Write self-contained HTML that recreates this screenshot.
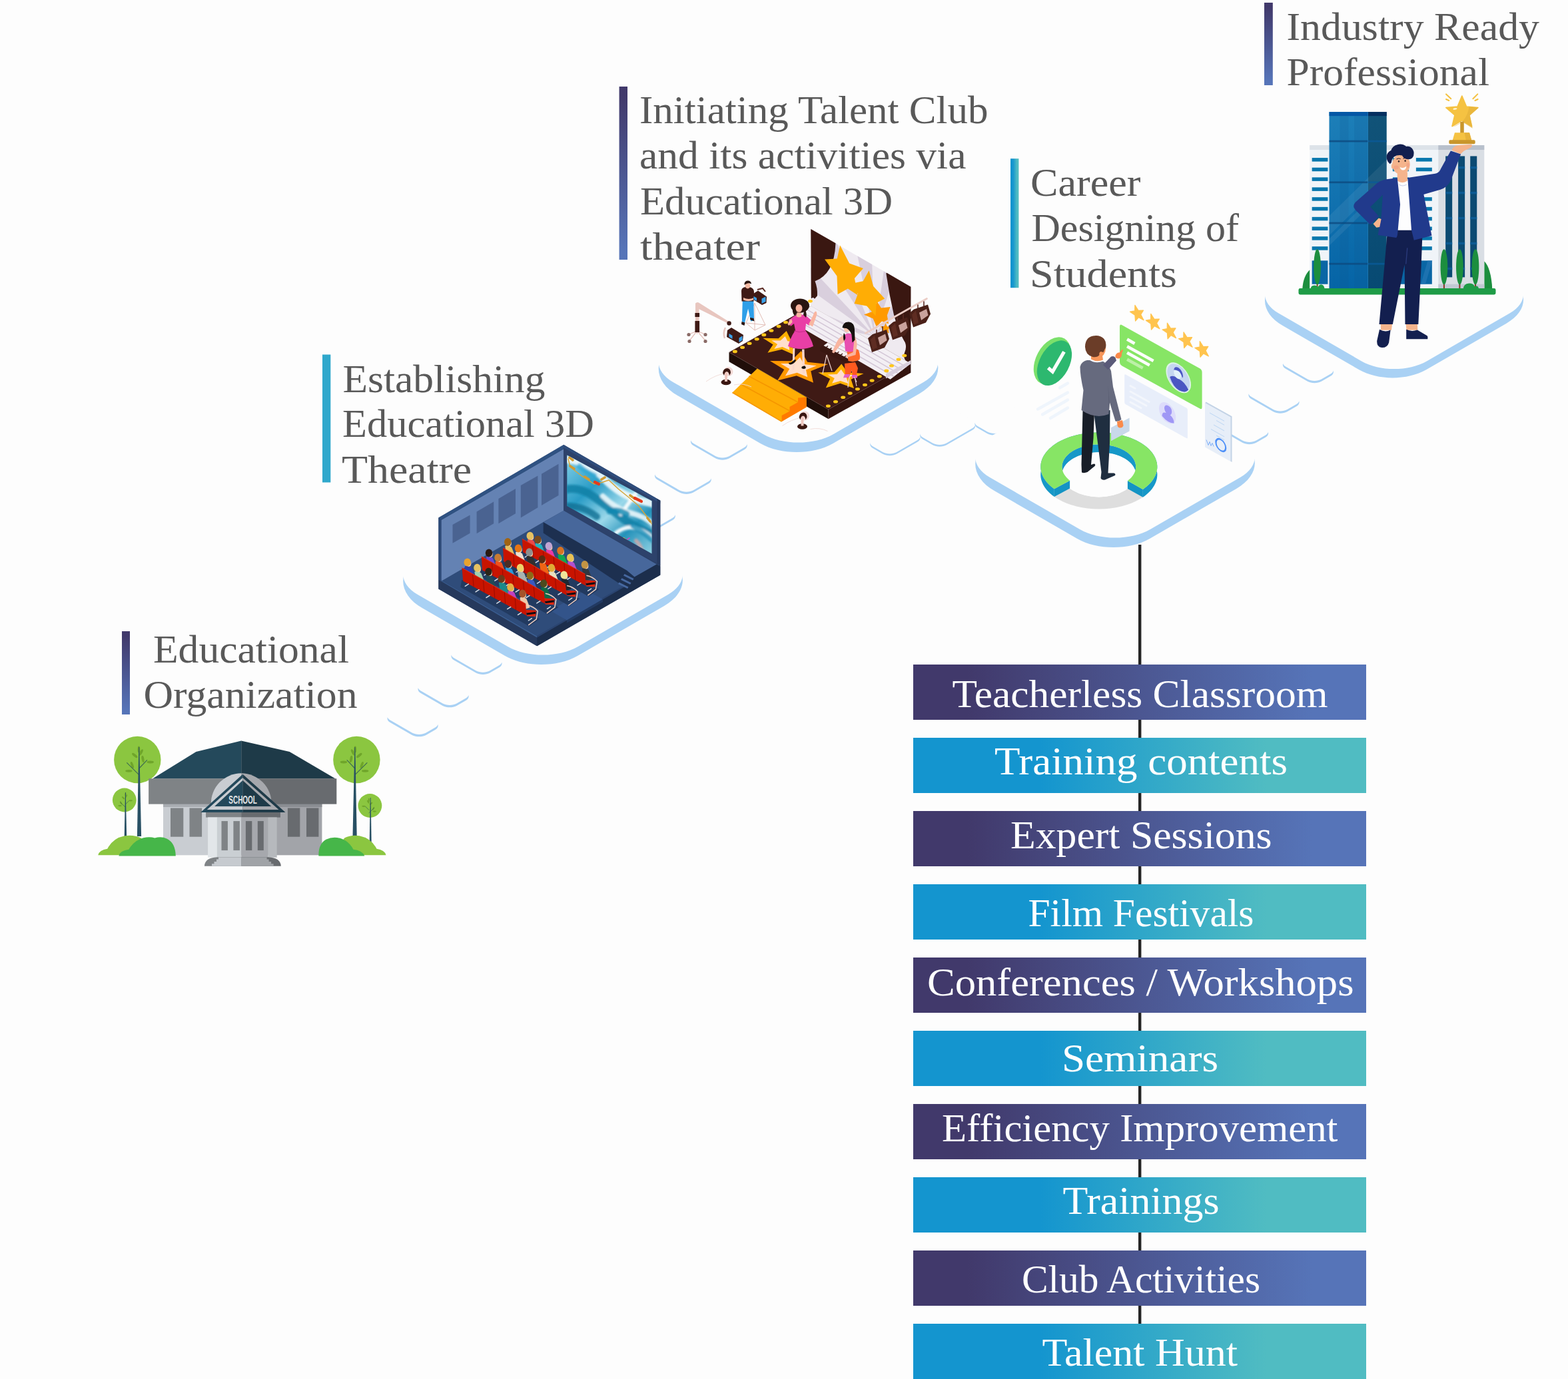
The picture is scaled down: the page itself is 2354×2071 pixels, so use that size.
<!DOCTYPE html>
<html lang="en"><head><meta charset="utf-8"><title>Talent Club Roadmap</title>
<style>
html,body{margin:0;padding:0;background:#fdfdfd}
html{width:2354px;height:2071px}
body{width:2354px;height:2071px;position:relative}
svg{display:block;position:absolute;left:0;top:0}
text{font-family:"Liberation Serif",serif;white-space:pre}
.ss text, text.ss{font-family:"Liberation Sans",sans-serif}
</style></head><body>
<svg width="2354" height="2071" viewBox="0 0 2354 2071">
<defs>
<linearGradient id="gp" x1="0" y1="0" x2="1" y2="0"><stop offset="0.12" stop-color="#41396b"/><stop offset="0.88" stop-color="#5674b8"/></linearGradient>
<linearGradient id="gt" x1="0" y1="0" x2="1" y2="0"><stop offset="0.28" stop-color="#1495cf"/><stop offset="0.78" stop-color="#50bcc2"/></linearGradient>
<linearGradient id="gpv" x1="0" y1="0" x2="0" y2="1"><stop offset="0.05" stop-color="#41396b"/><stop offset="0.95" stop-color="#5674b8"/></linearGradient>
<linearGradient id="gth" x1="0" y1="0" x2="1" y2="0"><stop offset="0.3" stop-color="#1495cf"/><stop offset="0.8" stop-color="#50bcc2"/></linearGradient>
<clipPath id="fclip"><rect x="1455" y="620" width="41.500" height="60"/></clipPath>
<linearGradient id="scr" gradientUnits="userSpaceOnUse" x1="851" y1="690" x2="978" y2="830"><stop offset="0" stop-color="#7fcde6"/><stop offset="0.3" stop-color="#2a9cc6"/><stop offset="0.55" stop-color="#9ad8ea"/><stop offset="0.75" stop-color="#2592ba"/><stop offset="1" stop-color="#8ccfe2"/></linearGradient>
<filter id="blur2" x="-20%" y="-20%" width="140%" height="140%"><feGaussianBlur stdDeviation="1.6"/></filter>
<clipPath id="scrclip"><path d="M851.3,683.4 978.5,752.3 978.5,831.4 851.3,759.8z"/></clipPath>
<clipPath id="bdclip"><path d="M1217.3,343.9 1367.4,430.7 1367.400,546 1217.300,459.500z"/></clipPath>
<linearGradient id="twl" x1="0" y1="0" x2="0" y2="1"><stop offset="0" stop-color="#1d7fb8"/><stop offset="1" stop-color="#0564a6"/></linearGradient><linearGradient id="twr" x1="0" y1="0" x2="0" y2="1"><stop offset="0" stop-color="#115378"/><stop offset="1" stop-color="#074a73"/></linearGradient>

</defs>

<g id="steps">
<path d="M585.8,1084.9L618.7,1103.9C624.5,1107.2 633.8,1107.2 639.5,1103.9L653.4,1095.9C659.1,1092.6 659.1,1087.2 653.4,1083.9L620.4,1064.9C614.7,1061.6 605.4,1061.6 599.7,1064.9L585.8,1072.9C580.1,1076.2 580.1,1081.6 585.8,1084.9Z" fill="#a9d1f4"/><path d="M585.8,1081.6L618.7,1100.6C624.5,1103.9 633.8,1103.9 639.5,1100.6L653.4,1092.6C659.1,1089.3 659.1,1083.9 653.4,1080.6L620.4,1061.6C614.7,1058.3 605.4,1058.3 599.7,1061.6L585.8,1069.6C580.1,1072.9 580.1,1078.3 585.8,1081.6Z" fill="#fdfdfd"/>
<path d="M631.8,1040.9L664.7,1059.9C670.5,1063.2 679.8,1063.2 685.5,1059.9L699.4,1051.9C705.1,1048.6 705.1,1043.2 699.4,1039.9L666.4,1020.9C660.7,1017.6 651.4,1017.6 645.7,1020.9L631.8,1028.9C626.1,1032.2 626.1,1037.6 631.8,1040.9Z" fill="#a9d1f4"/><path d="M631.8,1037.6L664.7,1056.6C670.5,1059.9 679.8,1059.9 685.5,1056.6L699.4,1048.6C705.1,1045.3 705.1,1039.9 699.4,1036.6L666.4,1017.6C660.7,1014.3 651.4,1014.3 645.7,1017.6L631.8,1025.6C626.1,1028.9 626.1,1034.3 631.8,1037.6Z" fill="#fdfdfd"/>
<path d="M681.7,991.5L714.6,1010.5C720.4,1013.8 729.7,1013.8 735.4,1010.5L749.3,1002.5C755,999.2 755,993.8 749.3,990.5L716.3,971.5C710.6,968.2 701.3,968.2 695.6,971.5L681.7,979.5C676,982.8 676,988.2 681.7,991.5Z" fill="#a9d1f4"/><path d="M681.7,988.2L714.6,1007.2C720.4,1010.5 729.7,1010.5 735.4,1007.2L749.3,999.2C755,995.9 755,990.5 749.3,987.2L716.3,968.2C710.6,964.9 701.3,964.9 695.6,968.2L681.7,976.2C676,979.5 676,984.9 681.7,988.2Z" fill="#fdfdfd"/>
<path d="M1878.7,599.3L1911.6,618.3C1917.4,621.6 1926.7,621.6 1932.4,618.3L1946.3,610.3C1952,607 1952,601.6 1946.3,598.3L1913.3,579.3C1907.6,576 1898.3,576 1892.6,579.3L1878.7,587.3C1873,590.6 1873,596 1878.7,599.3Z" fill="#a9d1f4"/><path d="M1878.7,596L1911.6,615C1917.4,618.3 1926.7,618.3 1932.4,615L1946.3,607C1952,603.7 1952,598.3 1946.3,595L1913.3,576C1907.6,572.7 1898.3,572.7 1892.6,576L1878.7,584C1873,587.3 1873,592.7 1878.7,596Z" fill="#fdfdfd"/>
<path d="M1930.1,553.8L1963,572.8C1968.8,576.1 1978.1,576.1 1983.8,572.8L1997.7,564.8C2003.4,561.5 2003.4,556.1 1997.7,552.8L1964.7,533.8C1959,530.5 1949.7,530.5 1944,533.8L1930.1,541.8C1924.4,545.1 1924.4,550.5 1930.1,553.8Z" fill="#a9d1f4"/><path d="M1930.1,550.5L1963,569.5C1968.8,572.8 1978.1,572.8 1983.8,569.5L1997.7,561.5C2003.4,558.2 2003.4,552.8 1997.7,549.5L1964.7,530.5C1959,527.2 1949.7,527.2 1944,530.5L1930.1,538.5C1924.4,541.8 1924.4,547.2 1930.1,550.5Z" fill="#fdfdfd"/>
<path d="M933.3,775.3L966.2,794.3C972,797.6 981.3,797.6 987,794.3L1009.5,781.3C1015.3,778 1015.3,772.6 1009.5,769.3L976.6,750.3C970.9,747 961.6,747 955.8,750.3L933.3,763.3C927.6,766.6 927.6,772 933.3,775.3Z" fill="#a9d1f4"/><path d="M933.3,772L966.2,791C972,794.3 981.3,794.3 987,791L1009.5,778C1015.3,774.7 1015.3,769.3 1009.5,766L976.6,747C970.9,743.7 961.6,743.7 955.8,747L933.3,760C927.6,763.3 927.6,768.7 933.3,772Z" fill="#fdfdfd"/>
<path d="M987.2,720.6L1020.1,739.6C1025.9,742.9 1035.2,742.9 1040.9,739.6L1063.4,726.6C1069.2,723.3 1069.2,717.9 1063.4,714.6L1030.5,695.6C1024.8,692.3 1015.5,692.3 1009.7,695.6L987.2,708.6C981.5,711.9 981.5,717.3 987.2,720.6Z" fill="#a9d1f4"/><path d="M987.2,717.3L1020.1,736.3C1025.9,739.6 1035.2,739.6 1040.9,736.3L1063.4,723.3C1069.2,720 1069.2,714.6 1063.4,711.3L1030.5,692.3C1024.8,689 1015.5,689 1009.7,692.3L987.2,705.3C981.5,708.6 981.5,714 987.2,717.3Z" fill="#fdfdfd"/>
<path d="M1041.2,669.2L1074.1,688.2C1079.9,691.5 1089.2,691.5 1094.9,688.2L1117.4,675.2C1123.2,671.9 1123.2,666.5 1117.4,663.2L1084.5,644.2C1078.8,640.9 1069.5,640.9 1063.7,644.2L1041.2,657.2C1035.5,660.5 1035.5,665.9 1041.2,669.2Z" fill="#a9d1f4"/><path d="M1041.2,665.9L1074.1,684.9C1079.9,688.2 1089.2,688.2 1094.9,684.9L1117.4,671.9C1123.2,668.6 1123.2,663.2 1117.4,659.9L1084.5,640.9C1078.8,637.6 1069.5,637.6 1063.7,640.9L1041.2,653.9C1035.5,657.2 1035.5,662.6 1041.2,665.9Z" fill="#fdfdfd"/>
<path d="M1310.6,673.3L1325.3,681.8C1331.1,685.1 1340.4,685.1 1346.1,681.8L1377.3,663.8C1383,660.5 1383,655.1 1377.3,651.8L1362.6,643.3C1356.8,640 1347.5,640 1341.8,643.3L1310.6,661.3C1304.9,664.6 1304.9,670 1310.6,673.3Z" fill="#a9d1f4"/><path d="M1310.6,670.5L1325.3,679C1331.1,682.3 1340.4,682.3 1346.1,679L1377.3,661C1383,657.7 1383,652.3 1377.3,649L1362.6,640.5C1356.8,637.2 1347.5,637.2 1341.8,640.5L1310.6,658.5C1304.9,661.8 1304.9,667.2 1310.6,670.5Z" fill="#fdfdfd"/>
<path d="M1385.5,659.8L1400.2,668.3C1406,671.6 1415.3,671.6 1421,668.3L1460,645.8C1465.7,642.5 1465.7,637.1 1460,633.8L1445.3,625.3C1439.5,622 1430.2,622 1424.5,625.3L1385.5,647.8C1379.8,651.1 1379.8,656.5 1385.5,659.8Z" fill="#a9d1f4"/><path d="M1385.5,657L1400.2,665.5C1406,668.8 1415.3,668.8 1421,665.5L1460,643C1465.7,639.7 1465.7,634.3 1460,631L1445.3,622.5C1439.5,619.2 1430.2,619.2 1424.5,622.5L1385.5,645C1379.8,648.3 1379.8,653.7 1385.5,657Z" fill="#fdfdfd"/>
<path d="M1467.7,642.8L1482.4,651.3C1488.2,654.6 1497.5,654.6 1503.2,651.3L1534.4,633.3C1540.1,630 1540.1,624.6 1534.4,621.3L1519.7,612.8C1513.9,609.5 1504.6,609.5 1498.9,612.8L1467.7,630.8C1462,634.1 1462,639.5 1467.7,642.8Z" fill="#a9d1f4" clip-path="url(#fclip)"/><path d="M1467.7,640L1482.4,648.5C1488.2,651.8 1497.5,651.8 1503.2,648.5L1534.4,630.5C1540.1,627.2 1540.1,621.8 1534.4,618.5L1519.7,610C1513.9,606.7 1504.6,606.7 1498.9,610L1467.7,628C1462,631.3 1462,636.7 1467.7,640Z" fill="#fdfdfd"/>
</g>
<g id="tiles">
<path d="M634.6,913.6L758.2,985C788.2,1002.3 836.9,1002.3 867,985L997.1,909.9C1034.1,888.5 1034.1,854 997.1,832.6L858.3,752.5C834.4,738.7 795.6,738.7 771.7,752.5L634.6,831.6C595.4,854.3 595.4,891 634.6,913.6Z" fill="#a9d1f4"/><path d="M627.1,893L762.2,971C791.3,987.8 838.7,987.8 867.8,971L1002.9,893C1032.1,876.2 1032.1,848.8 1002.9,832L867.8,754C838.7,737.2 791.3,737.2 762.2,754L627.1,832C597.9,848.8 597.9,876.2 627.1,893Z" fill="#fdfdfd"/>
<path d="M1018.1,594.6L1141.7,666C1171.7,683.3 1220.4,683.3 1250.5,666L1380.6,590.9C1417.6,569.5 1417.6,535 1380.6,513.6L1241.8,433.5C1217.9,419.7 1179.1,419.7 1155.2,433.5L1018.1,512.6C978.9,535.3 978.9,572 1018.1,594.6Z" fill="#a9d1f4"/><path d="M1010.6,574L1145.7,652C1174.8,668.8 1222.2,668.8 1251.3,652L1386.4,574C1415.6,557.2 1415.6,529.8 1386.4,513L1251.3,435C1222.2,418.2 1174.8,418.2 1145.7,435L1010.6,513C981.4,529.8 981.4,557.2 1010.6,574Z" fill="#fdfdfd"/>
<path d="M1493.6,737.6L1617.2,809C1647.2,826.3 1695.9,826.3 1726,809L1856.1,733.9C1893.1,712.5 1893.1,678 1856.1,656.6L1717.3,576.5C1693.4,562.7 1654.6,562.7 1630.7,576.5L1493.6,655.6C1454.4,678.3 1454.4,715 1493.6,737.6Z" fill="#a9d1f4"/><path d="M1486.1,717L1621.2,795C1650.3,811.8 1697.7,811.8 1726.8,795L1861.9,717C1891.1,700.2 1891.1,672.8 1861.9,656L1726.8,578C1697.7,561.2 1650.3,561.2 1621.2,578L1486.1,656C1456.9,672.8 1456.9,700.2 1486.1,717Z" fill="#fdfdfd"/>
<path d="M1926.1,489.3L2040.4,555.3C2068.2,571.4 2113.3,571.4 2141.1,555.3L2261.5,485.8C2295.6,466.1 2295.6,434.1 2261.5,414.4L2133.1,340.2C2110.9,327.5 2075.1,327.5 2052.9,340.2L1926.1,413.5C1889.9,434.4 1889.9,468.4 1926.1,489.3Z" fill="#a9d1f4"/><path d="M1919.2,470.2L2044.1,542.4C2071.1,557.9 2114.9,557.9 2141.9,542.4L2266.8,470.2C2293.8,454.6 2293.8,429.4 2266.8,413.8L2141.9,341.6C2114.9,326.1 2071.1,326.1 2044.1,341.6L1919.2,413.8C1892.2,429.4 1892.2,454.6 1919.2,470.2Z" fill="#fdfdfd"/>
<path d="M1832.3,645.8L1865.2,664.8C1871,668.1 1880.3,668.1 1886,664.8L1899.9,656.8C1905.6,653.5 1905.6,648.1 1899.9,644.8L1866.9,625.8C1861.2,622.5 1851.9,622.5 1846.2,625.8L1832.3,633.8C1826.6,637.1 1826.6,642.5 1832.3,645.8Z" fill="#a9d1f4"/><path d="M1832.3,642.5L1865.2,661.5C1871,664.8 1880.3,664.8 1886,661.5L1899.9,653.5C1905.6,650.2 1905.6,644.8 1899.9,641.5L1866.9,622.5C1861.2,619.2 1851.9,619.2 1846.2,622.5L1832.3,630.5C1826.6,633.8 1826.6,639.2 1832.3,642.5Z" fill="#fdfdfd"/>
</g>
<rect x="1709" y="818" width="4.4" height="1253" fill="#242424"/>
<g id="school">
<!-- trees -->
<circle cx="206.3" cy="1141" r="35.2" fill="#8bc640"/>
<circle cx="186.8" cy="1201.5" r="17.9" fill="#8bc640"/>
<circle cx="535.4" cy="1141" r="35.2" fill="#8bc640"/>
<circle cx="555.4" cy="1210" r="17.9" fill="#8bc640"/>
<g fill="#6fa52a"><ellipse cx="202.3" cy="1134.5" rx="5.2" ry="1.9" transform="rotate(40 202.3 1134.5)"/><ellipse cx="211.7" cy="1130.0" rx="5.2" ry="1.9" transform="rotate(-60 211.7 1130.0)"/><ellipse cx="214.5" cy="1140.0" rx="5.2" ry="1.9" transform="rotate(-100 214.5 1140.0)"/><ellipse cx="225.7" cy="1144.5" rx="5.2" ry="1.9" transform="rotate(0 225.7 1144.5)"/><ellipse cx="198.4" cy="1148.9" rx="5.2" ry="1.9" transform="rotate(70 198.4 1148.9)"/><ellipse cx="193.4" cy="1157.8" rx="5.2" ry="1.9" transform="rotate(0 193.4 1157.8)"/><ellipse cx="208.4" cy="1125.6" rx="5.2" ry="1.9" transform="rotate(-90 208.4 1125.6)"/><ellipse cx="185.1" cy="1198.4" rx="2.8" ry="1.1" transform="rotate(40 185.1 1198.4)"/><ellipse cx="189.5" cy="1195.7" rx="2.8" ry="1.1" transform="rotate(-60 189.5 1195.7)"/><ellipse cx="196.2" cy="1202.3" rx="2.8" ry="1.1" transform="rotate(0 196.2 1202.3)"/><ellipse cx="181.7" cy="1205.7" rx="2.8" ry="1.1" transform="rotate(60 181.7 1205.7)"/><ellipse cx="180.0" cy="1210.1" rx="2.8" ry="1.1" transform="rotate(0 180.0 1210.1)"/><ellipse cx="188.4" cy="1192.9" rx="2.8" ry="1.1" transform="rotate(-90 188.4 1192.9)"/></g>
<path d="M208.4,1163.4L190.6,1145.6" stroke="#3c6a50" stroke-width="1.1" stroke-linecap="round"/><path d="M208.4,1154.5L220.6,1141.7" stroke="#3c6a50" stroke-width="1.1" stroke-linecap="round"/><path d="M188.4,1212.3L180.6,1205.1" stroke="#3c6a50" stroke-width="0.8" stroke-linecap="round"/><path d="M188.4,1207.9L193.4,1202.9" stroke="#3c6a50" stroke-width="0.8" stroke-linecap="round"/>
<g fill="#6fa52a"><ellipse cx="539.3" cy="1134.5" rx="5.2" ry="1.9" transform="rotate(-40 539.3 1134.5)"/><ellipse cx="529.9" cy="1130.0" rx="5.2" ry="1.9" transform="rotate(60 529.9 1130.0)"/><ellipse cx="527.1" cy="1140.0" rx="5.2" ry="1.9" transform="rotate(100 527.1 1140.0)"/><ellipse cx="515.9" cy="1144.5" rx="5.2" ry="1.9" transform="rotate(0 515.9 1144.5)"/><ellipse cx="543.2" cy="1148.9" rx="5.2" ry="1.9" transform="rotate(-70 543.2 1148.9)"/><ellipse cx="548.2" cy="1157.8" rx="5.2" ry="1.9" transform="rotate(0 548.2 1157.8)"/><ellipse cx="533.2" cy="1125.6" rx="5.2" ry="1.9" transform="rotate(90 533.2 1125.6)"/><ellipse cx="557.1" cy="1206.9" rx="2.8" ry="1.1" transform="rotate(-40 557.1 1206.9)"/><ellipse cx="552.7" cy="1204.2" rx="2.8" ry="1.1" transform="rotate(60 552.7 1204.2)"/><ellipse cx="546.0" cy="1210.8" rx="2.8" ry="1.1" transform="rotate(0 546.0 1210.8)"/><ellipse cx="560.5" cy="1214.2" rx="2.8" ry="1.1" transform="rotate(-60 560.5 1214.2)"/><ellipse cx="562.2" cy="1218.6" rx="2.8" ry="1.1" transform="rotate(0 562.2 1218.6)"/><ellipse cx="553.8" cy="1201.4" rx="2.8" ry="1.1" transform="rotate(90 553.8 1201.4)"/></g>
<path d="M533.2,1163.4L551.0,1145.6" stroke="#3c6a50" stroke-width="1.1" stroke-linecap="round"/><path d="M533.2,1154.5L521.0,1141.7" stroke="#3c6a50" stroke-width="1.1" stroke-linecap="round"/><path d="M553.8,1220.8L561.6,1213.6" stroke="#3c6a50" stroke-width="0.8" stroke-linecap="round"/><path d="M553.8,1216.4L548.8,1211.4" stroke="#3c6a50" stroke-width="0.8" stroke-linecap="round"/>
<path d="M208.3 1122h0.900l2.900 134h-6.200z" fill="#285064"/>
<path d="M188 1190h0.800l1.300 66h-3.400z" fill="#285064"/>
<path d="M532.400 1122h0.900l2.400 134h-6.200z" fill="#285064"/>
<path d="M555.800 1198h0.800l1.300 81h-3.400z" fill="#285064"/>
<!-- body -->
<rect x="245" y="1207" width="117.2" height="77.3" fill="#c9cdd2"/>
<rect x="362.2" y="1207" width="121.2" height="77.3" fill="#a2a4a9"/>
<rect x="245" y="1207" width="117.2" height="5" fill="#a9adb2"/>
<rect x="362.2" y="1207" width="121.2" height="5" fill="#8a8d92"/>
<g fill="#7f8386"><rect x="256" y="1213.5" width="19.3" height="43.2"/><rect x="284.5" y="1213.5" width="18.6" height="43.2"/></g>
<g fill="#686b6f"><rect x="431.9" y="1213.5" width="18.4" height="43.2"/><rect x="460" y="1213.5" width="18.4" height="43.2"/></g>
<!-- roof -->
<path d="M228.9 1169.5L294.4 1129.1L362.2 1112.5V1169.5z" fill="#24495b"/>
<path d="M362.2 1112.5L434.7 1129.1L503.7 1169.5H362.2z" fill="#1e3a48"/>
<!-- fascia -->
<rect x="223.1" y="1169.3" width="139.1" height="38.3" fill="#7f8386"/>
<rect x="362.2" y="1169.3" width="143.1" height="38.3" fill="#686b6f"/>
<!-- dome -->
<path d="M316.8 1208a45.4 45.4 0 0 1 45.4 -46.7v46.7z" fill="#c9cdd2"/>
<path d="M362.2 1161.3a45.4 45.4 0 0 1 45.4 46.7h-45.4z" fill="#a6a8ad"/>
<!-- portico -->
<rect x="309.1" y="1219" width="53.1" height="8.6" fill="#7f8386"/>
<rect x="362.2" y="1219" width="58.7" height="8.6" fill="#686b6f"/>
<rect x="312.1" y="1227.4" width="13.9" height="60.4" fill="#e2e6e9"/>
<rect x="325.8" y="1227.4" width="36.4" height="60.4" fill="#cacfd3"/>
<rect x="362.2" y="1227.4" width="40.4" height="60.4" fill="#a6a8ad"/>
<rect x="402.4" y="1227.4" width="13.3" height="60.4" fill="#b6b9bd"/>
<g fill="#7f8386"><rect x="332.5" y="1233.1" width="9.4" height="44"/><rect x="350.4" y="1233.1" width="9.5" height="44"/></g>
<g fill="#686b6f"><rect x="368.9" y="1233.1" width="9.4" height="44"/><rect x="386.8" y="1233.1" width="9" height="44"/></g>
<!-- pediment -->
<path d="M301.3 1219.9L364.4 1162.7V1219.9z" fill="#24495b"/>
<path d="M364.4 1162.7L428.4 1219.9H364.4z" fill="#1e3a48"/>
<path d="M310.7 1216.1L364.4 1167.9V1216.1z" fill="#c9cdd2"/>
<path d="M364.4 1167.9L418.5 1216.1H364.4z" fill="#a6a8ad"/>
<path d="M322.1 1210.9L364.4 1172.1V1210.9z" fill="#24495b"/>
<path d="M364.4 1172.1L407.2 1210.9H364.4z" fill="#1e3a48"/>
<text class="ss" x="343.3" y="1207.1" font-size="17" font-weight="bold" fill="#e3e5e6" textLength="42.6" lengthAdjust="spacingAndGlyphs">SCHOOL</text>
<!-- steps -->
<path d="M306.9 1300.7q0.6 -12.4 19 -13.4h36.3v13.4z" fill="#7f8386"/>
<path d="M421.8 1300.7q-0.6 -12.4 -19 -13.4h-40.6v13.4z" fill="#686b6f"/>
<path d="M318 1300.7v-3.4h3.5v-3.4h3.5v-3.5h3v-3h34.2v13.3z" fill="#c6cacf"/>
<path d="M410.6 1300.7v-3.4h-3.5v-3.4h-3.5v-3.5h-3v-3h-38.4v13.3z" fill="#a0a3a7"/>
<!-- bushes -->
<path d="M147.2 1284.3q2 -8 14 -9.5q8 -16 26 -19.6q14 -2 24 3l26 26z" fill="#8bc640"/>
<path d="M579.5 1284.3q-2 -8 -14 -9.5q-8 -16 -26 -19.6q-12 -2 -22 3l-22 26z" fill="#8bc640"/>
<path d="M178.3 1285.4q2 -8 15 -9.6q8 -14 22 -17.6q10 -2 17 0.4q10 -3 18 1q13 6 13.5 25.800000000000001z" fill="#46b649"/>
<path d="M478.4 1285.4q-0.600 -18 11 -24.6q12 -6 25 -0.600q11 5 16 15.6q13 1 16.9 9.6z" fill="#46b649"/>
</g>

<g id="theatre">
<path d="M846.2,668 658.4,777.6 658.4,884.4 806.2,970.2 991.2,863.4 991.2,751.8z" fill="#2a3f66"/>
<path d="M658.4,884.4 806.2,970.2 806.2,955.5 658.4,870.5z" fill="#26395c"/>
<path d="M806.2,970.2 991.2,863.4 991.2,848.5 806.2,955.5z" fill="#1c2e4c"/>
<path d="M663.4,872.2 817.2,783.3 990,849 806.2,955.2z" fill="#2f4c7a"/>
<path d="M658.4,870.5 663.4,872.2 806.2,955.2 806.2,957.5z" fill="#3a5d90"/>
<path d="M806.2,955.2 990,849 990,851 806.2,957.5z" fill="#2b4572"/>
<path d="M826,917 880,886 905,900 851,931.5z" fill="#33548a"/>
<path d="M851,931.5 905,900 905,904 851,935.5z" fill="#223a62"/>
<path d="M662.4,781 846.2,674.2 846.2,767 817.2,783.3 663.4,872.2 662.4,871z" fill="#6482b3"/>
<path d="M658.4,777.6 846.2,668 846.2,674.2 662.4,781z" fill="#2f5282"/>
<path d="M658.4,777.6 662.4,781 662.4,871.5 658.4,870.5z" fill="#2c4a78"/>
<path d="M679.5,787.9 705.6,773.5 705.6,800.7 679.5,815.7z" fill="#4a6391"/>
<path d="M715.6,768.5 741.2,753.4 741.2,786.3 715.6,801.3z" fill="#4a6391"/>
<path d="M748.4,749 774,734 774,771.2 748.4,786.3z" fill="#4a6391"/>
<path d="M781.8,729 807.4,714.5 807.4,762.3 781.8,777.4z" fill="#4a6391"/>
<path d="M813,711.7 838.5,696.7 838.5,744 813,759z" fill="#4a6391"/>
<path d="M846.2,668 991.2,751.8 991.2,849 846.2,766.8z" fill="#2d426b"/>
<path d="M846.2,668 991.2,751.8 991.2,756 846.2,672.5z" fill="#2f4d7c"/>
<path d="M986.5,749.2 991.2,751.8 991.2,849 986.5,846.5z" fill="#26395e"/>
<path d="M851.3,683.4 978.5,752.3 978.5,831.4 851.3,759.8z" fill="url(#scr)"/>
<g clip-path="url(#scrclip)"><g filter="url(#blur2)" fill="none" stroke-linecap="round"><path d="M846 690q34 0 60 28t64 36t20 30" stroke="#f4fbfd" stroke-width="11" opacity=".9"/><path d="M850 735q20 -4 40 10t40 30t56 30" stroke="#0b7fa6" stroke-width="12" opacity=".85"/><path d="M852 760q24 0 44 16" stroke="#0a6f93" stroke-width="10" opacity=".8"/><path d="M905 745q20 20 44 26t36 22" stroke="#eaf7fb" stroke-width="8" opacity=".9"/><path d="M932 772q10 -14 22 -30" stroke="#ffffff" stroke-width="6" opacity=".9"/><path d="M915 768q14 -4 26 4" stroke="#0c87b0" stroke-width="9" opacity=".8"/><path d="M925 800q16 -12 32 -6t24 16" stroke="#f7fcfe" stroke-width="6" opacity=".95"/><path d="M950 790q12 6 30 22" stroke="#1a8fb8" stroke-width="7" opacity=".8"/><path d="M955 812q8 8 10 20" stroke="#d9a6a8" stroke-width="6" opacity=".8"/><path d="M870 700q10 10 22 14" stroke="#2aa6d4" stroke-width="8" opacity=".7"/></g><g fill="none" stroke-linecap="round"><path d="M853 689l3 12q14 12 24 18l12 8q12 -2 22 -6q14 14 30 26l14 12q10 12 22 30" stroke="#d6a63c" stroke-width="1.5"/><path d="M855 687l5 4M856 700l6 4M878 716l6 4M903 720l5 -3M920 718l5 4M946 744l7 5M972 778l4 5" stroke="#cf9a34" stroke-width="3.6"/><path d="M893 724l6 3M953 748l10 5" stroke="#e43a1c" stroke-width="4.2"/><path d="M936 808l4 3M948 816l4 4M962 826l5 3M972 832l4 3" stroke="#d9b04a" stroke-width="2.2"/><path d="M925 805l3 2M942 810l3 -2" stroke="#c050c0" stroke-width="2"/></g></g>
<path d="M815.7,784.2 846.2,766.8 985.9,847.4 952.5,866.4 941,856.7z" fill="#47679b"/>
<path d="M815.7,784.2 941,856.7 952.5,866.4 933,878.5 815.7,800.5z" fill="#1d3050"/>
<path d="M952.5,866.4 985.9,847.4 991.2,850.5 991.2,863.4 951.3,886 933,878.5z" fill="#1c2e4c"/>
<path d="M937.5,862 951.5,869 950,871.6 936,864.6z" fill="#4668a0"/>
<path d="M933.5,868.2 947.5,875.2 946,877.8 932,870.8z" fill="#4668a0"/>
<path d="M929.5,874.4 943.5,881.4 942,884 928,877z" fill="#4668a0"/>
<path d="M693.3,870.8 792.4,923.4 810.4,929.4 794.4,940.4 691.3,881.8z" fill="#223a60"/>
<path d="M722,854.3 820.5,905.8 838.5,911.8 822.5,922.8 720,865.3z" fill="#223a60"/>
<path d="M754.3,841.4 852.8,892.9 870.8,898.9 854.8,909.9 752.3,852.4z" fill="#223a60"/>
<path d="M783.1,827.3 881.6,878.8 899.6,884.8 883.6,895.8 781.1,838.3z" fill="#223a60"/>
<path d="M791.7,810.7q5,-3 10,2l5,13l-12,4z" fill="#e84a4a"/>
<ellipse cx="797.9" cy="806.7" rx="3.4" ry="4.4" fill="#f3c9a5"/>
<ellipse cx="795.7" cy="804.7" rx="5.2" ry="6" fill="#e6c262"/>
<path d="M803.4,816.5q5,-3 10,2l5,13l-12,4z" fill="#22b4c0"/>
<ellipse cx="809.6" cy="812.5" rx="3.4" ry="4.4" fill="#f3c9a5"/>
<ellipse cx="807.4" cy="810.5" rx="5.2" ry="6" fill="#7a4a1c"/>
<path d="M819.8,825.9q5,-3 10,2l5,13l-12,4z" fill="#e83aa8"/>
<ellipse cx="826" cy="821.9" rx="3.4" ry="4.4" fill="#f3c9a5"/>
<ellipse cx="823.8" cy="819.9" rx="5.2" ry="6" fill="#c2a4d2"/>
<path d="M837.4,833q5,-3 10,2l5,13l-12,4z" fill="#12a850"/>
<ellipse cx="843.6" cy="829" rx="3.4" ry="4.4" fill="#f3c9a5"/>
<ellipse cx="841.4" cy="827" rx="5.2" ry="6" fill="#d87422"/>
<path d="M852.1,843.5q5,-3 10,2l5,13l-12,4z" fill="#b050d0"/>
<ellipse cx="858.3" cy="839.5" rx="3.4" ry="4.4" fill="#f3c9a5"/>
<ellipse cx="856.1" cy="837.5" rx="5.2" ry="6" fill="#e8c254"/>
<path d="M873.8,854.1q5,-3 10,2l5,13l-12,4z" fill="#303840"/>
<ellipse cx="880" cy="850.1" rx="3.4" ry="4.4" fill="#f3c9a5"/>
<ellipse cx="877.8" cy="848.1" rx="5.2" ry="6" fill="#c29444"/>
<path d="M783.9,809.4 878.4,862.2 879.6,879.8 785.1,829.3z" fill="#c81400"/>
<path d="M799.6,818.2L800.9,837.7" stroke="#9e0d00" stroke-width="1.1"/>
<path d="M815.4,827L816.6,846.1" stroke="#9e0d00" stroke-width="1.1"/>
<path d="M831.1,835.8L832.4,854.5" stroke="#9e0d00" stroke-width="1.1"/>
<path d="M846.9,844.6L848.1,863" stroke="#9e0d00" stroke-width="1.1"/>
<path d="M862.6,853.4L863.9,871.4" stroke="#9e0d00" stroke-width="1.1"/>
<path d="M783.9,809.4L878.4,862.2" stroke="#e0301c" stroke-width="1"/>
<path d="M878.4,871.2 894.4,872.2 893.4,879.2 880.6,877.8z" fill="#d81e08"/>
<path d="M880.4,864.2q10,2 16,9l-2,12l-12,9" fill="none" stroke="#f1cfc0" stroke-width="1.5"/>
<path d="M879.4,876.2 893.4,874.2 893.4,879.2 880.6,878.8z" fill="#120a10"/>
<path d="M879.4,879.2 893.4,877.2 893.4,881.2 880.6,880.8z" fill="#e02810"/>
<path d="M788.1,836.8l5,-3.2" stroke="#d5dbe3" stroke-width="1.5" stroke-linecap="round"/>
<path d="M803.9,845.2l5,-3.2" stroke="#d5dbe3" stroke-width="1.5" stroke-linecap="round"/>
<path d="M819.6,853.6l5,-3.2" stroke="#d5dbe3" stroke-width="1.5" stroke-linecap="round"/>
<path d="M835.4,862l5,-3.2" stroke="#d5dbe3" stroke-width="1.5" stroke-linecap="round"/>
<path d="M851.1,870.5l5,-3.2" stroke="#d5dbe3" stroke-width="1.5" stroke-linecap="round"/>
<path d="M866.9,878.9l5,-3.2" stroke="#d5dbe3" stroke-width="1.5" stroke-linecap="round"/>
<path d="M882.6,887.3l5,-3.2" stroke="#d5dbe3" stroke-width="1.5" stroke-linecap="round"/>
<path d="M758.2,820q5,-3 10,2l5,13l-12,4z" fill="#e8c060"/>
<ellipse cx="764.4" cy="816" rx="3.4" ry="4.4" fill="#f3c9a5"/>
<ellipse cx="762.2" cy="814" rx="5.2" ry="6" fill="#a06414"/>
<path d="M774,829.4q5,-3 10,2l5,13l-12,4z" fill="#f0e0d0"/>
<ellipse cx="780.2" cy="825.4" rx="3.4" ry="4.4" fill="#f3c9a5"/>
<ellipse cx="778" cy="823.4" rx="5.2" ry="6" fill="#e87414"/>
<path d="M790.5,835.3q5,-3 10,2l5,13l-12,4z" fill="#303030"/>
<ellipse cx="796.7" cy="831.3" rx="3.4" ry="4.4" fill="#f3c9a5"/>
<ellipse cx="794.5" cy="829.3" rx="5.2" ry="6" fill="#8e8e8e"/>
<path d="M809.8,845.9q5,-3 10,2l5,13l-12,4z" fill="#f06414"/>
<ellipse cx="816" cy="841.9" rx="3.4" ry="4.4" fill="#f3c9a5"/>
<ellipse cx="813.8" cy="839.9" rx="5.2" ry="6" fill="#5a2c12"/>
<path d="M823.9,858.8q5,-3 10,2l5,13l-12,4z" fill="#e8e0c0"/>
<ellipse cx="830.1" cy="854.8" rx="3.4" ry="4.4" fill="#f3c9a5"/>
<ellipse cx="827.9" cy="852.8" rx="5.2" ry="6" fill="#e0aa34"/>
<path d="M842.7,869.4q5,-3 10,2l5,13l-12,4z" fill="#202830"/>
<ellipse cx="848.9" cy="865.4" rx="3.4" ry="4.4" fill="#f3c9a5"/>
<ellipse cx="846.7" cy="863.4" rx="5.2" ry="6" fill="#f0e49a"/>
<path d="M755.1,822.9 849.1,877.5 850.8,893.9 756.3,843.4z" fill="#c81400"/>
<path d="M770.8,832L772,851.8" stroke="#9e0d00" stroke-width="1.1"/>
<path d="M786.4,841.1L787.8,860.2" stroke="#9e0d00" stroke-width="1.1"/>
<path d="M802.1,850.2L803.5,868.6" stroke="#9e0d00" stroke-width="1.1"/>
<path d="M817.8,859.3L819.3,877.1" stroke="#9e0d00" stroke-width="1.1"/>
<path d="M833.4,868.4L835,885.5" stroke="#9e0d00" stroke-width="1.1"/>
<path d="M755.1,822.9L849.1,877.5" stroke="#e0301c" stroke-width="1"/>
<path d="M849.1,886.5 865.1,887.5 864.1,894.5 851.8,891.9z" fill="#d81e08"/>
<path d="M851.1,879.5q10,2 16,9l-2,12l-12,9" fill="none" stroke="#f1cfc0" stroke-width="1.5"/>
<path d="M850.1,891.5 864.1,889.5 864.1,894.5 851.8,892.9z" fill="#120a10"/>
<path d="M850.1,894.5 864.1,892.5 864.1,896.5 851.8,894.9z" fill="#e02810"/>
<path d="M759.3,850.9l5,-3.2" stroke="#d5dbe3" stroke-width="1.5" stroke-linecap="round"/>
<path d="M775,859.3l5,-3.2" stroke="#d5dbe3" stroke-width="1.5" stroke-linecap="round"/>
<path d="M790.8,867.7l5,-3.2" stroke="#d5dbe3" stroke-width="1.5" stroke-linecap="round"/>
<path d="M806.5,876.1l5,-3.2" stroke="#d5dbe3" stroke-width="1.5" stroke-linecap="round"/>
<path d="M822.3,884.6l5,-3.2" stroke="#d5dbe3" stroke-width="1.5" stroke-linecap="round"/>
<path d="M838,893l5,-3.2" stroke="#d5dbe3" stroke-width="1.5" stroke-linecap="round"/>
<path d="M853.8,901.4l5,-3.2" stroke="#d5dbe3" stroke-width="1.5" stroke-linecap="round"/>
<path d="M730,836.5q5,-3 10,2l5,13l-12,4z" fill="#6a4ad0"/>
<ellipse cx="736.2" cy="832.5" rx="3.4" ry="4.4" fill="#f3c9a5"/>
<ellipse cx="734" cy="830.5" rx="5.2" ry="6" fill="#2a1a12"/>
<path d="M743.5,843.5q5,-3 10,2l5,13l-12,4z" fill="#f0501a"/>
<ellipse cx="749.7" cy="839.5" rx="3.4" ry="4.4" fill="#f3c9a5"/>
<ellipse cx="747.5" cy="837.5" rx="5.2" ry="6" fill="#c77a34"/>
<path d="M758.8,852.9q5,-3 10,2l5,13l-12,4z" fill="#2a9ad8"/>
<ellipse cx="765" cy="848.9" rx="3.4" ry="4.4" fill="#f3c9a5"/>
<ellipse cx="762.8" cy="846.9" rx="5.2" ry="6" fill="#4a2c22"/>
<path d="M777,858.8q5,-3 10,2l5,13l-12,4z" fill="#a8b4b0"/>
<ellipse cx="783.2" cy="854.8" rx="3.4" ry="4.4" fill="#f3c9a5"/>
<ellipse cx="781" cy="852.8" rx="5.2" ry="6" fill="#f0d468"/>
<path d="M791.7,870.5q5,-3 10,2l5,13l-12,4z" fill="#3a58c0"/>
<ellipse cx="797.9" cy="866.5" rx="3.4" ry="4.4" fill="#f3c9a5"/>
<ellipse cx="795.7" cy="864.5" rx="5.2" ry="6" fill="#8b6a18"/>
<path d="M812.2,882.3q5,-3 10,2l5,13l-12,4z" fill="#0e6a48"/>
<ellipse cx="818.4" cy="878.3" rx="3.4" ry="4.4" fill="#f3c9a5"/>
<ellipse cx="816.2" cy="876.3" rx="5.2" ry="6" fill="#4d4a1e"/>
<path d="M722.9,835.8 816.8,889.2 818.5,906.8 724,856.3z" fill="#c81400"/>
<path d="M738.5,844.7L739.8,864.7" stroke="#9e0d00" stroke-width="1.1"/>
<path d="M754.2,853.6L755.5,873.1" stroke="#9e0d00" stroke-width="1.1"/>
<path d="M769.8,862.5L771.2,881.5" stroke="#9e0d00" stroke-width="1.1"/>
<path d="M785.5,871.4L787,890" stroke="#9e0d00" stroke-width="1.1"/>
<path d="M801.1,880.3L802.8,898.4" stroke="#9e0d00" stroke-width="1.1"/>
<path d="M722.9,835.8L816.8,889.2" stroke="#e0301c" stroke-width="1"/>
<path d="M816.8,898.2 832.8,899.2 831.8,906.2 819.5,904.8z" fill="#d81e08"/>
<path d="M818.8,891.2q10,2 16,9l-2,12l-12,9" fill="none" stroke="#f1cfc0" stroke-width="1.5"/>
<path d="M817.8,903.2 831.8,901.2 831.8,906.2 819.5,905.8z" fill="#120a10"/>
<path d="M817.8,906.2 831.8,904.2 831.8,908.2 819.5,907.8z" fill="#e02810"/>
<path d="M727,863.8l5,-3.2" stroke="#d5dbe3" stroke-width="1.5" stroke-linecap="round"/>
<path d="M742.8,872.2l5,-3.2" stroke="#d5dbe3" stroke-width="1.5" stroke-linecap="round"/>
<path d="M758.5,880.6l5,-3.2" stroke="#d5dbe3" stroke-width="1.5" stroke-linecap="round"/>
<path d="M774.2,889l5,-3.2" stroke="#d5dbe3" stroke-width="1.5" stroke-linecap="round"/>
<path d="M790,897.5l5,-3.2" stroke="#d5dbe3" stroke-width="1.5" stroke-linecap="round"/>
<path d="M805.8,905.9l5,-3.2" stroke="#d5dbe3" stroke-width="1.5" stroke-linecap="round"/>
<path d="M821.5,914.3l5,-3.2" stroke="#d5dbe3" stroke-width="1.5" stroke-linecap="round"/>
<path d="M697.7,850.6q5,-3 10,2l5,13l-12,4z" fill="#2a3fb0"/>
<ellipse cx="703.9" cy="846.6" rx="3.4" ry="4.4" fill="#f3c9a5"/>
<ellipse cx="701.7" cy="844.6" rx="5.2" ry="6" fill="#e8a22e"/>
<path d="M712.4,858.8q5,-3 10,2l5,13l-12,4z" fill="#9fd0b0"/>
<ellipse cx="718.6" cy="854.8" rx="3.4" ry="4.4" fill="#f3c9a5"/>
<ellipse cx="716.4" cy="852.8" rx="5.2" ry="6" fill="#e6c262"/>
<path d="M729.4,864.7q5,-3 10,2l5,13l-12,4z" fill="#1f4a58"/>
<ellipse cx="735.6" cy="860.7" rx="3.4" ry="4.4" fill="#f3c9a5"/>
<ellipse cx="733.4" cy="858.7" rx="5.2" ry="6" fill="#2a261a"/>
<path d="M748.8,875.2q5,-3 10,2l5,13l-12,4z" fill="#1a8a8a"/>
<ellipse cx="755" cy="871.2" rx="3.4" ry="4.4" fill="#f3c9a5"/>
<ellipse cx="752.8" cy="869.2" rx="5.2" ry="6" fill="#6b3a1a"/>
<path d="M762.3,888.1q5,-3 10,2l5,13l-12,4z" fill="#c040c0"/>
<ellipse cx="768.5" cy="884.1" rx="3.4" ry="4.4" fill="#f3c9a5"/>
<ellipse cx="766.3" cy="882.1" rx="5.2" ry="6" fill="#e6b244"/>
<path d="M780.5,897.5q5,-3 10,2l5,13l-12,4z" fill="#f0c8a8"/>
<ellipse cx="786.7" cy="893.5" rx="3.4" ry="4.4" fill="#f3c9a5"/>
<ellipse cx="784.5" cy="891.5" rx="5.2" ry="6" fill="#a5532a"/>
<path d="M693.5,852.8 789.2,906.8 790.4,924.4 695.3,872.8z" fill="#c81400"/>
<path d="M709.5,861.8L711.1,881.4" stroke="#9e0d00" stroke-width="1.1"/>
<path d="M725.4,870.8L727,890" stroke="#9e0d00" stroke-width="1.1"/>
<path d="M741.4,879.8L742.8,898.6" stroke="#9e0d00" stroke-width="1.1"/>
<path d="M757.3,888.8L758.7,907.2" stroke="#9e0d00" stroke-width="1.1"/>
<path d="M773.2,897.8L774.5,915.8" stroke="#9e0d00" stroke-width="1.1"/>
<path d="M693.5,852.8L789.2,906.8" stroke="#e0301c" stroke-width="1"/>
<path d="M789.2,915.8 805.2,916.8 804.2,923.8 791.4,922.4z" fill="#d81e08"/>
<path d="M791.2,908.8q10,2 16,9l-2,12l-12,9" fill="none" stroke="#f1cfc0" stroke-width="1.5"/>
<path d="M790.2,920.8 804.2,918.8 804.2,923.8 791.4,923.4z" fill="#120a10"/>
<path d="M790.2,923.8 804.2,921.8 804.2,925.8 791.4,925.4z" fill="#e02810"/>
<path d="M698.3,880.3l5,-3.2" stroke="#d5dbe3" stroke-width="1.5" stroke-linecap="round"/>
<path d="M714.1,888.9l5,-3.2" stroke="#d5dbe3" stroke-width="1.5" stroke-linecap="round"/>
<path d="M730,897.5l5,-3.2" stroke="#d5dbe3" stroke-width="1.5" stroke-linecap="round"/>
<path d="M745.8,906.1l5,-3.2" stroke="#d5dbe3" stroke-width="1.5" stroke-linecap="round"/>
<path d="M761.7,914.7l5,-3.2" stroke="#d5dbe3" stroke-width="1.5" stroke-linecap="round"/>
<path d="M777.5,923.3l5,-3.2" stroke="#d5dbe3" stroke-width="1.5" stroke-linecap="round"/>
<path d="M793.4,931.9l5,-3.2" stroke="#d5dbe3" stroke-width="1.5" stroke-linecap="round"/>
</g>

<g id="stage">
<g stroke="#e2bdb6" stroke-linecap="round" fill="none"><path d="M1046.5 497l-12 5M1046.5 497l12 5M1046.5 497l-11 14M1046.5 497l12 14M1046.5 497v4" stroke-width="1.3"/></g>
<circle cx="1034" cy="502.5" r="2.6" fill="#8a6a66"/>
<circle cx="1059" cy="502.5" r="2.6" fill="#8a6a66"/>
<circle cx="1035" cy="512.5" r="2.6" fill="#8a6a66"/>
<circle cx="1059" cy="512.5" r="2.6" fill="#8a6a66"/>
<path d="M1044 457h5.5v42h-5.5z" fill="#e8c6bf"/>
<path d="M1043.4 470h6.7v6h-6.7zM1043.4 482h6.7v17h-6.7z" fill="#3f1a15"/>
<path d="M1044 455.500q2.500 -2.500 5 -1l46 29l-1.500 2.500l-49.500 -24.500z" fill="#e8c6bf"/>
<circle cx="1094.6" cy="485.5" r="3.2" fill="#3f1a15"/>
<path d="M1089 492q-4 8 -1 16" stroke="#e8c6bf" stroke-width="2.4" fill="none"/>
<path d="M1092,496 1098,492 1116,503 1115,512 1109,516 1091,506z" fill="#3f1a15"/>
<path d="M1094.5,501 1099.5,504 1099.5,509 1094.5,506z" fill="#3aa2ea"/>
<path d="M1109.5,507.5 1114.5,504.5 1114.5,511 1109.5,514z" fill="#3aa2ea"/>
<g stroke="#e2bdb6" stroke-width="1" fill="none"><path d="M1133 455l-13 30l13 11l16 -8zM1133 455v41M1120 485l29 3"/></g>
<path d="M1114.8 451l16.5 0.6l0.8 30l-5 1l-4 -19l-5 21l-4.2 -1.6z" fill="#2f9fe8"/>
<path d="M1113.5 483l5 1.5l-1 4.5l-4.5 -2zM1126 477l5.500 1l1 4.5l-6 -2z" fill="#2a1510"/>
<path d="M1113 437q0 -5 6 -6l8 0.500q5 2 5 7l-0.500 14h-18z" fill="#3f1a15"/>
<path d="M1116 447q8 4 16 0l0 3q-8 4 -16 0.500z" fill="#f3b9a2"/>
<ellipse cx="1122.5" cy="429" rx="4" ry="4.4" fill="#f3b9a2"/>
<path d="M1117.500 428q-0.500 -6 5 -6.500q5 0 5.500 5q-4 -2 -7 -0.500q-2 1 -3.500 2z" fill="#2a1510"/>
<path d="M1131,441 1138,436.5 1151,445.5 1150.5,455 1144,458 1131,450z" fill="#3f1a15"/>
<path d="M1143.5,448.5 1149.5,445.5 1149.5,453 1143.5,456z" fill="#3aa2ea"/>
<path d="M1131.5,445 1136,447.5 1136,452 1131.5,449.5z" fill="#3aa2ea"/>
<path d="M1137 435l8 -2l4 5" stroke="#5a2a22" stroke-width="2" fill="none"/>
<path d="M1094.5,529 1243.6,615 1243.6,629.2 1094.5,543.2z" fill="#200e09"/>
<path d="M1243.6,615 1367.4,545.5 1367.4,559.7 1243.6,629.2z" fill="#34140f"/>
<path d="M1094.5,529 1217.6,459.5 1367.4,545.5 1243.6,615z" fill="#3f1a15"/>
<path d="M1217.3,343.9 1367.4,430.7 1367.4,546 1217.3,459.5z" fill="#efeaf0"/>
<g clip-path="url(#bdclip)"><path d="M1313,505 1058.7,450.9 1075.5,399.2z" fill="#d9cfdd"/><path d="M1313,505 1102.7,352.2 1135.7,314.8z" fill="#d9cfdd"/><path d="M1313,505 1175.2,284.5 1215.6,263.9z" fill="#d9cfdd"/><path d="M1313,505 1258.9,250.7 1303.9,245.2z" fill="#d9cfdd"/><path d="M1313,505 1349.2,247.5 1393.3,257.7z" fill="#d9cfdd"/><path d="M1313,505 1443,279.8 1493.6,318z" fill="#d9cfdd"/><path d="M1313,505 1538.2,375 1567.3,450.9z" fill="#d9cfdd"/></g>
<path d="M1217.3,343.9L1254.5,365.2q-1 24 -9 38q-8 14 -22 19q4 10 3.500 22l-4 4.500l-2.200 -2l-3 1.600z" fill="#3a1711"/>
<path d="M1331.300,409.800L1367.400,430.700V546l-8 -4.600q-4 -6 -1 -13q3 -7 0.500 -14q-10 -16 -17 -42q-7 -30 -11.600 -62z" fill="#3a1711"/>
<path d="M1316.8,452.9 1322.9,462.4 1336.6,461 1331.8,473.5 1334,486.3 1324,482.4 1315.7,490.7 1310.7,478.5 1297,472.6 1309.6,467.9z" fill="#ff9a00"/>
<path d="M1329.6,485.2 1331.8,490.2 1337.4,490.7 1333.5,494.6 1334.6,500.7 1329.6,497.4 1324.6,500.2 1325.9,494.4 1321.8,490.2 1327.4,490z" fill="#ff9a00"/>
<path d="M1304.6,406.2 1311.2,430.1 1328.2,448.5 1315.7,455.1 1314.6,474.6 1301.2,459.6 1282.5,455.9 1287.9,441.2 1279,425.7 1295.7,422.3z" fill="#ffad05"/>
<path d="M1261.2,368.4 1275.1,395.6 1295.9,402.9 1282.9,417.9 1287.9,443.5 1272.9,433.4 1257.6,442.1 1256.5,414.5 1238.1,389.5 1256.7,388.4z" fill="#ffad05"/>
<path d="M1217.6,459.5 1367.4,546 1336.6,569.8 1184.1,480.8z" fill="#f3eff4"/>
<path d="M1210.2,464.2L1360.6,551.2" stroke="#d3c6d6" stroke-width="1.5"/>
<path d="M1203.5,468.4L1354.5,556" stroke="#d3c6d6" stroke-width="1.5"/>
<path d="M1196.8,472.7L1348.3,560.7" stroke="#d3c6d6" stroke-width="1.5"/>
<path d="M1190.1,477L1342.1,565.5" stroke="#d3c6d6" stroke-width="1.5"/>
<path d="M1330,561.5 1367.4,541 1367.4,546.5 1330,568.5z" fill="#d9cfdd"/>
<path d="M1180.7,497.1 1186.9,509.7 1209.5,512.7 1190.1,519.8 1192,532.8 1173.8,524.7 1152.4,529.7 1160.6,517.5 1145.4,507.7 1168.7,508.3z" fill="#ffb000"/><path d="M1178.7,505.1 1182.3,512.3 1195.4,514.1 1184.2,518.2 1185.3,525.8 1174.7,521 1162.3,523.9 1167.1,516.9 1158.3,511.2 1171.7,511.5z" fill="#ffdfcc"/>
<path d="M1202.8,526.9 1212.2,543.7 1243,547.1 1217.3,557.3 1221,574.8 1195.8,564.3 1167.2,571.6 1177.3,555 1156,542 1187.4,542.2z" fill="#ff9800"/><path d="M1201,536.6 1206.8,547 1225.9,549.2 1210,555.5 1212.3,566.3 1196.6,559.8 1178.9,564.4 1185.2,554 1171.9,546 1191.4,546.1z" fill="#ffdfcc"/>
<path d="M1263.3,546.4 1272.2,559.2 1296.6,560.9 1277.6,569.7 1282.1,583.2 1261.4,575.8 1239.8,582.4 1246.1,569.1 1228.2,559.6 1252.7,558.8z" fill="#ffb000"/><path d="M1262.7,554.8 1267.9,562.3 1282.1,563.3 1271,568.3 1273.7,576.2 1261.7,571.9 1249.1,575.7 1252.8,568 1242.4,562.5 1256.6,562z" fill="#ffdfcc"/>
<ellipse cx="1103.4" cy="527.9" rx="3.5" ry="2.3" fill="#ffc61a"/>
<ellipse cx="1114.6" cy="521.8" rx="3.5" ry="2.3" fill="#ffc61a"/>
<ellipse cx="1125.1" cy="515.7" rx="3.5" ry="2.3" fill="#ffc61a"/>
<ellipse cx="1136.2" cy="509.3" rx="3.5" ry="2.3" fill="#ffc61a"/>
<ellipse cx="1146.8" cy="502.9" rx="3.5" ry="2.3" fill="#ffc61a"/>
<ellipse cx="1157.9" cy="496.5" rx="3.5" ry="2.3" fill="#ffc61a"/>
<ellipse cx="1169.1" cy="490.1" rx="3.5" ry="2.3" fill="#ffc61a"/>
<ellipse cx="1179.6" cy="484" rx="3.5" ry="2.3" fill="#ffc61a"/>
<ellipse cx="1243.4" cy="609.7" rx="3.5" ry="2.3" fill="#ffc61a"/>
<ellipse cx="1254.5" cy="603.2" rx="3.5" ry="2.3" fill="#ffc61a"/>
<ellipse cx="1265.7" cy="596.8" rx="3.5" ry="2.3" fill="#ffc61a"/>
<ellipse cx="1276.2" cy="590.6" rx="3.5" ry="2.3" fill="#ffc61a"/>
<ellipse cx="1287.4" cy="584.2" rx="3.5" ry="2.3" fill="#ffc61a"/>
<ellipse cx="1298.5" cy="578" rx="3.5" ry="2.3" fill="#ffc61a"/>
<ellipse cx="1309.1" cy="571.5" rx="3.5" ry="2.3" fill="#ffc61a"/>
<ellipse cx="1320.3" cy="565.3" rx="3.5" ry="2.3" fill="#ffc61a"/>
<ellipse cx="1357.8" cy="534" rx="3.5" ry="2.3" fill="#ffc61a"/>
<ellipse cx="1349" cy="539.8" rx="3.5" ry="2.3" fill="#ffc61a"/>
<ellipse cx="1338.5" cy="549.2" rx="3.5" ry="2.3" fill="#ffc61a"/>
<ellipse cx="1330.8" cy="556.9" rx="3.5" ry="2.3" fill="#ffc61a"/>
<ellipse cx="1216.4" cy="452.3" rx="3.5" ry="2.3" fill="#ffc61a"/>
<path d="M1136.8,553.5 1210.6,596.5 1210.6,611.5 1173.6,633.1 1099.5,589.5z" fill="#ffad05"/>
<path d="M1210.6,596.5 1210.6,611.5 1173.6,633.1 1173.6,624 1185.5,617.5 1185.5,611 1198,604 1198,597.5z" fill="#ff7a00"/>
<g stroke="#f59600" stroke-width="1.6" fill="none"><path d="M1124.300,565l73.700,39M1112,577l73.500,40M1099.500,589.500l74.100,43.600"/></g>
<g stroke="#ecd3cf" stroke-width="1.2" fill="none"><path d="M1241 533l-6 28M1241 533l8 24M1277 552l-4 28M1277 552l9 22"/></g>
<path d="M1231,522.5 1240,513 1288,538 1286,545 1279,548.5 1231,527z" fill="#3a1711"/>
<path d="M1236.5,519 1242.5,514.5 1285,537 1278.5,541.5z" fill="#f6f0f2"/>
<g stroke="#3a1711" stroke-width="1.4"><path d="M1243 519.500l-4.500 3.500M1248.500 522.500l-4.500 3.500M1254 525.300l-4.500 3.500M1259.500 528.300l-4.500 3.500M1265 531l-4.500 3.500M1270.500 534l-4.500 3.500M1276 537l-4.500 3.500"/></g>
<path d="M1268 546l16 -2l4 9l-3 14l-5 1l-1 -12l-5 12l-5 -1z" fill="#ff5a1f"/>
<path d="M1268 562l8 0l-2 4.500l-8 1zM1279 563l8 0l0 4.500l-8 0.500z" fill="#e25fc4"/>
<g stroke="#ecd3cf" stroke-width="1.1"><path d="M1275 566l-2 16M1283 566l3 14"/></g>
<path d="M1271 524q10 -4 18 2q3 8 1.500 14q-8 5 -17 2z" fill="#ff6a2a"/>
<path d="M1267 503q6 -4 13 -1l4 5l-1 20q-8 3 -14 0z" fill="#e84fb0"/>
<path d="M1268.500 503q-8 2 -12 10l-7.500 16l3 1.500l10 -13l6 -5z" fill="#f9b5a0"/>
<path d="M1283 505q4 6 3.500 14l-2 14l-14 4l-1 -3l11 -5z" fill="#f9b5a0"/>
<ellipse cx="1271.500" cy="493.500" rx="4.500" ry="5.200" fill="#f9c5b0"/>
<path d="M1264.500 492q2 -9 10 -8.500q8 1 8.500 11l0.500 16l-4 4l-1 -12q-3 -8 -8 -9.500q-4 0 -6 -1zM1267 500q3 4 2 9l-2 3q-2 -6 0 -12z" fill="#16100e"/>
<path d="M1189.500 556l3 -1l1 -36h-3zM1205 561l3.500 -0.500l-1 -36h-3.500z" fill="#fad7cc"/>
<path d="M1184 544.500q3 1 6 -2l4 -3l1 2q-3 5 -8 6q-3 0 -3 -3zM1203.500 551q2 -2 5 -1.500q2 2 0.500 4q-3 1 -5.500 -0.500z" fill="#16100e"/>
<path d="M1186 512l24 2l0 8q-12 4 -24 -1z" fill="#3f1a15"/>
<path d="M1196 473q8 -2 14 1l8 7l-3 8l-5 -3l-1 10q10 14 12 24q-18 8 -38 0q4 -14 11 -24l-2 -10l-5 4l-3 -7q4 -7 12 -10z" fill="#e93fa6"/>
<path d="M1192 497q8 3 17 0.500" stroke="#c52c8a" stroke-width="1" fill="none"/>
<path d="M1214 487l7 -14q1 -5 4 -5.500q2 2 1 6l-6 17z" fill="#f9b5a0"/>
<path d="M1188.500 479q-5 4 -6 8l2 2l5 -5z" fill="#f9b5a0"/>
<path d="M1196.500 466h6l1 9q-4 3 -8 0z" fill="#f9b5a0"/>
<ellipse cx="1201" cy="459" rx="14" ry="10.500" fill="#2a1510"/>
<path d="M1190 462q-1 8 3 12l4 -4zM1208 463q4 8 2 14l-4 -4z" fill="#2a1510"/>
<ellipse cx="1199.500" cy="463" rx="5" ry="6" fill="#f9b5a0"/>
<path d="M1299.300,500.500L1391.400,448.500" stroke="#ebcdc6" stroke-width="2.800" stroke-linecap="round"/>
<path d="M1316,495v8M1325,490v8" stroke="#5a2a22" stroke-width="1.600"/><path d="M1303,508 1310,502 1331,495 1335,509 1328,522 1309,529z" fill="#4a2018"/><path d="M1307,510 1313,504 1317,522 1310,525z" fill="#5e2c22"/><path d="M1318,507 1329,501.5 1331.5,511 1321,518.5z" fill="#c9a29c"/>
<path d="M1347,476.5v8M1356,471.5v8" stroke="#5a2a22" stroke-width="1.600"/><path d="M1334,489.5 1341,483.5 1362,476.5 1366,490.5 1359,503.5 1340,510.5z" fill="#4a2018"/><path d="M1338,491.5 1344,485.5 1348,503.5 1341,506.5z" fill="#5e2c22"/><path d="M1349,488.5 1360,483 1362.5,492.5 1352,500z" fill="#c9a29c"/>
<path d="M1378,457.5v8M1387,452.5v8" stroke="#5a2a22" stroke-width="1.600"/><path d="M1365,470.5 1372,464.5 1393,457.5 1397,471.5 1390,484.5 1371,491.5z" fill="#4a2018"/><path d="M1369,472.5 1375,466.5 1379,484.5 1372,487.5z" fill="#5e2c22"/><path d="M1380,469.5 1391,464 1393.5,473.5 1383,481z" fill="#c9a29c"/>
<circle cx="1093.5" cy="558" r="7" fill="#f3dcd8"/><path d="M1060,573q14 -10 28 -12M1102,578q14 -3 26 3" stroke="#f0dad6" stroke-width="0.900" fill="none"/><ellipse cx="1090" cy="574" rx="7.500" ry="4.300" fill="#3a1711"/><path d="M1088,558h4v15h-4z" fill="#f0c8c0"/><path d="M1085,560q1 -7 7 -7q5 1 5 7l-2 4q-1 -6 -4 -6q-3 0 -4 6z" fill="#3a1711"/>
<circle cx="1208" cy="624.5" r="7" fill="#f3dcd8"/><path d="M1174.5,639.5q14 -10 28 -12M1216.5,644.5q14 -3 26 3" stroke="#f0dad6" stroke-width="0.900" fill="none"/><ellipse cx="1204.5" cy="640.5" rx="7.500" ry="4.300" fill="#3a1711"/><path d="M1202.5,624.5h4v15h-4z" fill="#f0c8c0"/><path d="M1199.5,626.5q1 -7 7 -7q5 1 5 7l-2 4q-1 -6 -4 -6q-3 0 -4 6z" fill="#3a1711"/>
</g>

<g id="career">
<path fill-rule="evenodd" fill="#dedede" d="M1562.3,712.8a87.5,51.6 0 1,0 175.0,0a87.5,51.6 0 1,0 -175.0,0zM1594.4,712.8a55.4,33.6 0 1,0 110.8,0a55.4,33.6 0 1,0 -110.8,0z"/>
<path d="M1582.8,734.2 1579.7,731.9 1576.8,729.5 1574.2,727 1571.8,724.4 1569.7,721.7 1567.8,719 1566.2,716.2 1564.9,713.4 1563.8,710.5 1563,707.6 1562.5,704.7 1562.3,701.8 1562.4,698.8 1562.7,695.9 1563.4,693 1564.3,690.1 1565.5,687.2 1566.9,684.4 1568.7,681.7 1570.7,679 1572.9,676.4 1575.4,673.8 1578.2,671.4 1581.1,669 1584.3,666.8 1587.7,664.6 1591.4,662.6 1595.2,660.7 1599.1,658.9 1603.3,657.3 1607.6,655.8 1612,654.5 1616.5,653.3 1621.2,652.2 1626,651.4 1630.8,650.6 1635.7,650.1 1640.6,649.7 1645.6,649.5 1650.6,649.4 1655.5,649.5 1660.5,649.8 1665.4,650.2 1670.3,650.8 1675.1,651.6 1679.8,652.5 1684.5,653.6 1689,654.9 1693.4,656.3 1697.6,657.8 1701.7,659.5 1705.6,661.3 1709.4,663.2 1712.9,665.3 1716.3,667.4 1719.4,669.7 1722.3,672.1 1725,674.6 1727.4,677.2 1729.6,679.8 1731.5,682.5 1733.1,685.3 1734.5,688.1 1735.6,691 1736.5,693.9 1737,696.8 1737.3,699.7 1737.3,702.7 1737,705.6 1736.4,708.5 1735.5,711.4 1734.4,714.3 1732.9,717.1 1731.3,719.8 1729.3,722.6 1727.1,725.2 1724.6,727.7 1721.9,730.2 1719,732.6 1715.8,734.9 1715.8,746.7 1719,744.4 1721.9,742 1724.6,739.5 1727.1,737 1729.3,734.4 1731.3,731.6 1732.9,728.9 1734.4,726.1 1735.5,723.2 1736.4,720.3 1737,717.4 1737.3,714.5 1737.3,711.5 1737,708.6 1736.5,705.7 1735.6,702.8 1734.5,699.9 1733.1,697.1 1731.5,694.3 1729.6,691.6 1727.4,689 1725,686.4 1722.3,683.9 1719.4,681.5 1716.3,679.2 1712.9,677.1 1709.4,675 1705.6,673.1 1701.7,671.3 1697.6,669.6 1693.4,668.1 1689,666.7 1684.5,665.4 1679.8,664.3 1675.1,663.4 1670.3,662.6 1665.4,662 1660.5,661.6 1655.5,661.3 1650.6,661.2 1645.6,661.3 1640.6,661.5 1635.7,661.9 1630.8,662.4 1626,663.2 1621.2,664 1616.5,665.1 1612,666.3 1607.6,667.6 1603.3,669.1 1599.1,670.7 1595.2,672.5 1591.4,674.4 1587.7,676.4 1584.3,678.6 1581.1,680.8 1578.2,683.2 1575.4,685.6 1572.9,688.2 1570.7,690.8 1568.7,693.5 1566.9,696.2 1565.5,699 1564.3,701.9 1563.4,704.8 1562.7,707.7 1562.4,710.6 1562.3,713.6 1562.5,716.5 1563,719.4 1563.8,722.3 1564.9,725.2 1566.2,728 1567.8,730.8 1569.7,733.5 1571.8,736.2 1574.2,738.8 1576.8,741.3 1579.7,743.7 1582.8,746z" fill="#1698c8"/>
<path d="M1601.8,717.8 1600,715.7 1598.4,713.6 1597.1,711.4 1596,709.1 1595.2,706.8 1594.7,704.5 1594.4,702.2 1594.4,699.8 1594.7,697.5 1595.2,695.2 1596,692.9 1597.1,690.6 1598.4,688.4 1600,686.3 1601.8,684.2 1603.9,682.2 1606.1,680.3 1608.6,678.5 1611.3,676.8 1614.2,675.3 1617.2,673.8 1620.4,672.5 1623.8,671.3 1627.3,670.3 1630.9,669.4 1634.5,668.7 1638.3,668.1 1642.1,667.7 1645.9,667.5 1649.8,667.4 1653.7,667.5 1657.5,667.7 1661.3,668.1 1665.1,668.7 1668.7,669.4 1672.3,670.3 1675.8,671.3 1679.2,672.5 1682.4,673.8 1685.4,675.3 1688.3,676.8 1691,678.5 1693.5,680.3 1695.7,682.2 1697.8,684.2 1699.6,686.3 1701.2,688.4 1702.5,690.6 1703.6,692.9 1704.4,695.2 1704.9,697.5 1705.2,699.8 1705.2,702.2 1704.9,704.5 1704.4,706.8 1703.6,709.1 1702.5,711.4 1701.2,713.6 1699.6,715.7 1697.8,717.8 1697.8,729.6 1699.6,727.5 1701.2,725.4 1702.5,723.2 1703.6,720.9 1704.4,718.6 1704.9,716.3 1705.2,714 1705.2,711.6 1704.9,709.3 1704.4,707 1703.6,704.7 1702.5,702.4 1701.2,700.2 1699.6,698.1 1697.8,696 1695.7,694 1693.5,692.1 1691,690.3 1688.3,688.6 1685.4,687.1 1682.4,685.6 1679.2,684.3 1675.8,683.1 1672.3,682.1 1668.7,681.2 1665.1,680.5 1661.3,679.9 1657.5,679.5 1653.7,679.3 1649.8,679.2 1645.9,679.3 1642.1,679.5 1638.3,679.9 1634.5,680.5 1630.9,681.2 1627.3,682.1 1623.8,683.1 1620.4,684.3 1617.2,685.6 1614.2,687.1 1611.3,688.6 1608.6,690.3 1606.1,692.1 1603.9,694 1601.8,696 1600,698.1 1598.4,700.2 1597.1,702.4 1596,704.7 1595.2,707 1594.7,709.3 1594.4,711.6 1594.4,714 1594.7,716.3 1595.2,718.6 1596,720.9 1597.1,723.2 1598.4,725.4 1600,727.5 1601.8,729.6z" fill="#1698c8"/>
<ellipse cx="1649.8" cy="712.8" rx="55.4" ry="33.6" fill="#fdfdfd"/>
<path d="M1582.8,734.2 1606.1,721.7 1606.1,733.5 1582.8,746z" fill="#1494c4"/>
<path d="M1715.8,734.9 1692.9,722.1 1692.9,733.9 1715.8,746.7z" fill="#1494c4"/>
<path d="M1582.8,734.2 1579.7,731.9 1576.8,729.5 1574.2,727 1571.8,724.4 1569.7,721.7 1567.8,719 1566.2,716.2 1564.9,713.4 1563.8,710.5 1563,707.6 1562.5,704.7 1562.3,701.8 1562.4,698.8 1562.7,695.9 1563.4,693 1564.3,690.1 1565.5,687.2 1566.9,684.4 1568.7,681.7 1570.7,679 1572.9,676.4 1575.4,673.8 1578.2,671.4 1581.1,669 1584.3,666.8 1587.7,664.6 1591.4,662.6 1595.2,660.7 1599.1,658.9 1603.3,657.3 1607.6,655.8 1612,654.5 1616.5,653.3 1621.2,652.2 1626,651.4 1630.8,650.6 1635.7,650.1 1640.6,649.7 1645.6,649.5 1650.6,649.4 1655.5,649.5 1660.5,649.8 1665.4,650.2 1670.3,650.8 1675.1,651.6 1679.8,652.5 1684.5,653.6 1689,654.9 1693.4,656.3 1697.6,657.8 1701.7,659.5 1705.6,661.3 1709.4,663.2 1712.9,665.3 1716.3,667.4 1719.4,669.7 1722.3,672.1 1725,674.6 1727.4,677.2 1729.6,679.8 1731.5,682.5 1733.1,685.3 1734.5,688.1 1735.6,691 1736.5,693.9 1737,696.8 1737.3,699.7 1737.3,702.7 1737,705.6 1736.4,708.5 1735.5,711.4 1734.4,714.3 1732.9,717.1 1731.3,719.8 1729.3,722.6 1727.1,725.2 1724.6,727.7 1721.9,730.2 1719,732.6 1715.8,734.9 1692.9,722.1 1694.7,720.6 1696.5,719.1 1698.1,717.5 1699.5,715.8 1700.8,714.1 1701.9,712.3 1702.9,710.5 1703.7,708.7 1704.3,706.9 1704.8,705 1705.1,703.1 1705.2,701.3 1705.1,699.4 1704.9,697.5 1704.5,695.6 1703.9,693.8 1703.2,692 1702.2,690.2 1701.2,688.4 1699.9,686.7 1698.5,685 1696.9,683.4 1695.2,681.8 1693.4,680.3 1691.4,678.8 1689.3,677.4 1687.1,676.1 1684.7,674.9 1682.2,673.8 1679.7,672.7 1677,671.7 1674.3,670.9 1671.4,670.1 1668.5,669.4 1665.6,668.8 1662.6,668.3 1659.6,667.9 1656.5,667.6 1653.4,667.5 1650.3,667.4 1647.2,667.4 1644.1,667.6 1641,667.8 1638,668.2 1634.9,668.6 1632,669.2 1629.1,669.8 1626.2,670.6 1623.4,671.4 1620.8,672.4 1618.2,673.4 1615.7,674.5 1613.3,675.7 1611,677 1608.8,678.4 1606.8,679.8 1604.9,681.3 1603.2,682.9 1601.6,684.5 1600.1,686.1 1598.8,687.9 1597.7,689.6 1596.7,691.4 1595.9,693.2 1595.3,695.1 1594.8,696.9 1594.5,698.8 1594.4,700.7 1594.5,702.6 1594.7,704.4 1595.1,706.3 1595.7,708.2 1596.4,710 1597.3,711.8 1598.4,713.6 1599.7,715.3 1601.1,717 1602.6,718.6 1604.3,720.2 1606.1,721.7z" fill="#87e565"/>
<g stroke="#eff5fc" stroke-width="4.4" stroke-linecap="round"><path d="M1558,614.500l45,-25M1565,622.500l38,-22M1577,628l26,-15.500M1591,582.500l12,-7"/></g>
<g transform="translate(1579.8,541.800) rotate(-62)"><ellipse rx="38" ry="24.500" fill="#7be06b"/><ellipse cx="-1.500" cy="4.400" rx="36.500" ry="22.400" fill="#2db86f"/></g>
<path d="M1573.6,552.5l6.600,5.800l17.300,-30" fill="none" stroke="#fdfdfd" stroke-width="5.200" stroke-linejoin="miter"/>
<path d="M1688.2,563.5Q1688.2,561.5 1690,562.5L1781.1,612.6Q1782.9,613.6 1782.9,615.6L1782.9,657.1Q1782.9,659.1 1781.2,658.1L1689.9,607.3Q1688.2,606.3 1688.2,604.3z" fill="#e8eefa"/>
<g stroke="#f3f6fc" stroke-width="3" stroke-linecap="round"><path d="M1697,579.500l7,3.800M1697,588l28,15.500M1697,596l24,13.200M1697,604l16,8.800"/></g>
<g transform="translate(1752.6,620.1) skewY(29)"><ellipse rx="12.600" ry="14.500" fill="#dddcfb"/><path d="M-8,9q0,-7 6,-8q-4,-4 -2,-9q3,-5 8,-3q4,3 2,9q-1,2 -2,3q6,2 6,9q-9,5 -18,-1z" fill="#9f97f5"/></g>
<path d="M1681,490.3Q1681,486.3 1684.5,488.2L1801.1,553.3Q1804.6,555.2 1804.6,559.2L1804.6,611.5Q1804.6,615.5 1801.1,613.6L1684.5,549.4Q1681,547.5 1681,543.5z" fill="#87e565"/>
<g stroke="#fdfdfd" stroke-width="4.600" stroke-linecap="butt"><path d="M1692.1,509.4l11.300,6.500M1692.1,520.3l39.500,21.700M1692.1,529.700l33.700,18.800"/><path d="M1692.1,539.800l23.600,13" stroke="#bdf0a8"/></g>
<g transform="translate(1769.2,567.3) skewY(29)"><ellipse rx="18.800" ry="20.500" fill="#dff3ea"/><ellipse rx="17" ry="18.700" fill="#c5d6f0"/><path d="M-13,6q4,-5 10,-5l8,1q7,2 10,8q-5,8 -14,8.500q-9,0 -14,-12.500z" fill="#4a56c2"/><ellipse cx="-1.500" cy="-5" rx="5.500" ry="7" fill="#e2f1fa"/><path d="M-7,-8q1,-7 7,-7q6,1 7,9l-1,3q-2,-6 -6,-7q-4,0 -7,2z" fill="#4a56c2"/></g>
<path d="M1703.9,458.3 1709,466.3 1716.5,466.1 1712.6,472.4 1717,480.8 1709.4,476.7 1704.6,482.1 1703.9,473.3 1696.5,468.2 1703.7,466.9z" fill="#ffc44e" stroke="#ffc44e" stroke-width="1.2" stroke-linejoin="round"/>
<path d="M1727.8,471.3 1732.9,479.3 1740.4,479.1 1736.5,485.4 1740.9,493.8 1733.3,489.7 1728.5,495.1 1727.8,486.3 1720.4,481.2 1727.6,479.9z" fill="#ffc44e" stroke="#ffc44e" stroke-width="1.2" stroke-linejoin="round"/>
<path d="M1752.4,485.1 1757.5,493.1 1765,492.9 1761.1,499.2 1765.5,507.6 1757.9,503.5 1753.1,508.9 1752.4,500.1 1745,495 1752.2,493.7z" fill="#ffc44e" stroke="#ffc44e" stroke-width="1.2" stroke-linejoin="round"/>
<path d="M1777,498.8 1782.1,506.8 1789.6,506.6 1785.7,512.9 1790.1,521.3 1782.5,517.2 1777.7,522.6 1777,513.8 1769.6,508.7 1776.8,507.4z" fill="#ffc44e" stroke="#ffc44e" stroke-width="1.2" stroke-linejoin="round"/>
<path d="M1801.3,512.5 1806.4,520.5 1813.9,520.3 1810,526.6 1814.4,535 1806.8,530.9 1802,536.3 1801.3,527.5 1793.9,522.4 1801.1,521.1z" fill="#ffc44e" stroke="#ffc44e" stroke-width="1.2" stroke-linejoin="round"/>
<path d="M1810.5,603.5 1849.5,625.2 1849.5,694 1847,692.5 1847,626.5 1809,605.5z" fill="#c3d3e6"/>
<path d="M1809,604.9 1847.5,626.6 1847.5,693.1 1809,671.4z" fill="#e7eef8"/>
<g stroke="#bcd6f4" stroke-width="1" fill="none"><path d="M1816,620l22,12.400M1826,631.500l12,6.800M1822,638l16,9M1818,644.500l20,11.300M1826,654l12,6.800"/></g>
<g transform="translate(1832.8,668.5) skewY(29)"><ellipse rx="7.400" ry="8.400" fill="none" stroke="#4c8ff8" stroke-width="2.200"/></g>
<path d="M1811,660.500l3,8l2,-5l2,6l2,-4l2,5" stroke="#7fb0f8" stroke-width="1" fill="none"/>
<path d="M1668,642.3 1695.6,627.6 1695.6,647.6 1668,662.3z" fill="#c9d9ea"/>
<path d="M1625.500,616l17.500,2l-1.500,40l-3.500,40l4.500,-1.500q3,1 1,3.500l-11,9q-5,2 -8.500,0.500l-0.500,-12l1,-40z" fill="#181e28"/>
<path d="M1642,618l24.500,-2l-0.500,50l-2.500,44.500l8.500,0q3.500,1 2,3.500l-15,6.500q-5,1 -6.500,-2.500l1,-9l-5,-40z" fill="#1f2e40"/>
<path d="M1633,540.500l22,1.500q10,6 13,15l3,24l12.500,49q-4,3.500 -9,2.500l-8.500,-28l-1.500,17.500q-20,8 -41,-6l3,-30q-5,-22 -5,-35q1,-8 12,-10.500z" fill="#666a7e"/>
<path d="M1665.500,603l-2,-25l1.500,42z" fill="#5a5e72"/>
<path d="M1656,548l12,-12.500q4,-1.500 6.500,1.500l1.500,4.500l-12.500,14z" fill="#5a5a78"/>
<path d="M1674.500,534q2,-5 6,-4.500l4,-4.500q1.500,-0.500 1.500,1l-2,5q0.500,5 -3,7q-4,1.500 -6.500,-1.500z" fill="#fa8a4a"/>
<path d="M1677,633l8,-2l1.500,8q-1,3.500 -5,3.500q-3.500,0 -4,-4z" fill="#fa8a4a"/>
<path d="M1634.500,540q10,7 22,2.500l-2,-4.500q-9,-4 -19,-1z" fill="#fbfbfd"/>
<path d="M1638,534h17l1,6.500q-9,4 -18,-1z" fill="#f7965a"/>
<ellipse cx="1650" cy="523" rx="10" ry="13.500" fill="#f7965a"/>
<path d="M1629,521q0,-14 12,-16.500q10,-2 16.500,4.500q4,5 2.500,13q-2,3 -3.500,7l-4,-1q-3,1 -2,5q-3,4 -10,3q-11,-3 -11.500,-15z" fill="#6b3d28"/>
</g>

<g id="pro" transform="translate(1940,150) scale(0.17241)">
<path d="M88,1650q8,-120 68,-172v172z" fill="#1c8e3e"/>
<path d="M1672,1405q60,60 70,245h-70z" fill="#1c8e3e"/>
<rect x="152" y="395" width="172" height="1250" fill="#f0f4f8"/><rect x="152" y="395" width="172" height="40" fill="#dde3e9"/>
<rect x="820" y="395" width="454" height="1250" fill="#f0f4f8"/><rect x="820" y="395" width="454" height="40" fill="#dde3e9"/>
<rect x="172" y="505" width="138" height="32" fill="#0877ad"/>
<rect x="1078" y="505" width="139" height="32" fill="#0877ad"/>
<rect x="875" y="505" width="139" height="32" fill="#0877ad"/>
<rect x="172" y="590" width="138" height="32" fill="#0877ad"/>
<rect x="1078" y="590" width="139" height="32" fill="#0877ad"/>
<rect x="875" y="590" width="139" height="32" fill="#0877ad"/>
<rect x="172" y="675" width="138" height="32" fill="#0877ad"/>
<rect x="1078" y="675" width="139" height="32" fill="#0877ad"/>
<rect x="875" y="675" width="139" height="32" fill="#0877ad"/>
<rect x="172" y="762" width="138" height="32" fill="#0877ad"/>
<rect x="1078" y="762" width="139" height="32" fill="#0877ad"/>
<rect x="875" y="762" width="139" height="32" fill="#0877ad"/>
<rect x="172" y="848" width="138" height="32" fill="#0877ad"/>
<rect x="1078" y="848" width="139" height="32" fill="#0877ad"/>
<rect x="875" y="848" width="139" height="32" fill="#0877ad"/>
<rect x="172" y="933" width="138" height="32" fill="#0877ad"/>
<rect x="1078" y="933" width="139" height="32" fill="#0877ad"/>
<rect x="875" y="933" width="139" height="32" fill="#0877ad"/>
<rect x="172" y="1020" width="138" height="32" fill="#0877ad"/>
<rect x="1078" y="1020" width="139" height="32" fill="#0877ad"/>
<rect x="875" y="1020" width="139" height="32" fill="#0877ad"/>
<rect x="172" y="1105" width="138" height="32" fill="#0877ad"/>
<rect x="1078" y="1105" width="139" height="32" fill="#0877ad"/>
<rect x="875" y="1105" width="139" height="32" fill="#0877ad"/>
<rect x="172" y="1190" width="138" height="32" fill="#0877ad"/>
<rect x="1078" y="1190" width="139" height="32" fill="#0877ad"/>
<rect x="875" y="1190" width="139" height="32" fill="#0877ad"/>
<rect x="172" y="1277" width="138" height="32" fill="#0877ad"/>
<rect x="1078" y="1277" width="139" height="32" fill="#0877ad"/>
<rect x="875" y="1277" width="139" height="32" fill="#0877ad"/>
<rect x="172" y="1400" width="138" height="205" fill="#0a66a5"/>
<rect x="875" y="1400" width="342" height="205" fill="#0a66a5"/>
<path d="M1120,1605l60,-205h40l-60,205z" fill="#2a7ab8" opacity=".6"/>
<rect x="1272" y="395" width="400" height="1250" fill="#d9dee4"/><rect x="1272" y="395" width="400" height="40" fill="#b8c0cc"/>
<rect x="1272" y="1605" width="400" height="40" fill="#c2c9d4"/>
<rect x="1335" y="490" width="58" height="1055" fill="#0b4a72"/>
<rect x="1335" y="580" width="58" height="20" fill="#0c5a92"/>
<rect x="1335" y="800" width="58" height="20" fill="#0c5a92"/>
<rect x="1335" y="1020" width="58" height="20" fill="#0c5a92"/>
<rect x="1335" y="1240" width="58" height="20" fill="#0c5a92"/>
<rect x="1335" y="1460" width="58" height="20" fill="#0c5a92"/>
<rect x="1445" y="490" width="58" height="1055" fill="#0b4a72"/>
<rect x="1445" y="580" width="58" height="20" fill="#0c5a92"/>
<rect x="1445" y="800" width="58" height="20" fill="#0c5a92"/>
<rect x="1445" y="1020" width="58" height="20" fill="#0c5a92"/>
<rect x="1445" y="1240" width="58" height="20" fill="#0c5a92"/>
<rect x="1445" y="1460" width="58" height="20" fill="#0c5a92"/>
<rect x="1550" y="490" width="58" height="1055" fill="#0b4a72"/>
<rect x="1550" y="580" width="58" height="20" fill="#0c5a92"/>
<rect x="1550" y="800" width="58" height="20" fill="#0c5a92"/>
<rect x="1550" y="1020" width="58" height="20" fill="#0c5a92"/>
<rect x="1550" y="1240" width="58" height="20" fill="#0c5a92"/>
<rect x="1550" y="1460" width="58" height="20" fill="#0c5a92"/>
<rect x="322" y="105" width="340" height="1540" fill="url(#twl)"/>
<rect x="415" y="105" width="75" height="1540" fill="#10568f" opacity=".18"/>
<rect x="540" y="105" width="120" height="1540" fill="#10568f" opacity=".18"/>
<rect x="660" y="105" width="162" height="1540" fill="url(#twr)"/>
<path d="M322,1010L822,520v170L322,1180z" fill="#ffffff" opacity=".07"/>
<path d="M322,1210L660,880v60L322,1270z" fill="#ffffff" opacity=".07"/>
<rect x="322" y="105" width="340" height="35" fill="#0557a5"/><rect x="660" y="105" width="162" height="35" fill="#052f60"/>
<rect x="322" y="352" width="340" height="16" fill="#0c4a80" opacity=".8"/>
<rect x="660" y="352" width="162" height="16" fill="#0a5a98" opacity=".8"/>
<rect x="322" y="710" width="340" height="16" fill="#0c4a80" opacity=".8"/>
<rect x="660" y="710" width="162" height="16" fill="#0a5a98" opacity=".8"/>
<rect x="322" y="1065" width="340" height="16" fill="#0c4a80" opacity=".8"/>
<rect x="660" y="1065" width="162" height="16" fill="#0a5a98" opacity=".8"/>
<rect x="322" y="1420" width="340" height="16" fill="#0c4a80" opacity=".8"/>
<rect x="660" y="1420" width="162" height="16" fill="#0a5a98" opacity=".8"/>
<rect x="656" y="105" width="5" height="1540" fill="#2a86c0" opacity=".7"/>
<rect x="212" y="1560" width="12" height="90" fill="#8b3a2a"/>
<ellipse cx="218" cy="1455" rx="31" ry="155" fill="#1c8e3e"/>
<rect x="1316" y="1560" width="12" height="90" fill="#8b3a2a"/>
<ellipse cx="1322" cy="1455" rx="31" ry="155" fill="#1c8e3e"/>
<rect x="1452" y="1560" width="12" height="90" fill="#8b3a2a"/>
<ellipse cx="1458" cy="1455" rx="31" ry="155" fill="#1c8e3e"/>
<rect x="1589" y="1560" width="12" height="90" fill="#8b3a2a"/>
<ellipse cx="1595" cy="1455" rx="31" ry="155" fill="#1c8e3e"/>
<path d="M160,1650q0,-35 35,-35q20,0 30,15q8,-22 28,-22q28,4 28,42z" fill="#1f9c47"/>
<path d="M1490,1650q0,-50 50,-52q40,0 50,30q12,-10 24,-4q10,8 10,26z" fill="#1f9c47"/>
<rect x="55" y="1642" width="1717" height="54" rx="14" fill="#1f9c47"/>
<path d="M1478,-34 1516.8,58.6 1616.9,66.9 1540.8,132.4 1563.8,230.1 1478,178 1392.2,230.1 1415.2,132.4 1339.1,66.9 1439.2,58.6z" fill="#f5c242" stroke="#f5c242" stroke-width="10" stroke-linejoin="round"/>
<path d="M1540,60L1624,66L1548,136L1570,248L1478,190L1400,236q120,-40 140,-176z" fill="#e6b23a" opacity=".7"/>
<ellipse cx="1418" cy="78" rx="18" ry="7" fill="#fff6d8" transform="rotate(-8 1418 78)"/>
<rect x="1463" y="190" width="32" height="105" fill="#c9962c"/>
<path d="M1415,285h128l20,70h-168z" fill="#f5c242"/>
<path d="M1500,285h43l20,70h-50z" fill="#e6b23a"/>
<rect x="1365" y="350" width="228" height="34" rx="10" fill="#c9962c"/>
<g stroke="#f5c242" stroke-width="12" stroke-linecap="round"><path d="M1340,-50l42,40M1340,-6l24,12M1614,-50l-40,40M1616,-6l-24,12"/></g>
<path d="M830,1130h305l-12,320l-25,505h-115l-5,-520l-103,520h-118l45,-500z" fill="#131f4f"/>
<path d="M1002,1290l-12,140" stroke="#2a3a7a" stroke-width="8" fill="none"/>
<path d="M770,1955h100l-6,50h-92zM990,1955h100l2,50h-98z" fill="#f5b48c"/>
<path d="M760,2000q50,28 96,4l-14,110q-14,46 -62,44q-46,-6 -42,-60z" fill="#131f4f"/>
<path d="M993,2000q46,22 96,4l86,50q10,10 4,30h-186z" fill="#131f4f"/>
<path d="M912,690h100l40,445h-135z" fill="#fdfdfe"/>
<path d="M930,738q30,20 65,0" stroke="#c8cfe8" stroke-width="6" fill="none"/>
<path d="M915,630h88v75q-44,30 -88,0z" fill="#f5b48c"/>
<path d="M915,680l-95,12q-60,10 -100,50l-170,150q-30,34 0,66l130,130l75,-75l-75,-80l108,-105l-12,180l-30,170l160,22q10,-10 12,-40l22,-250z" fill="#213a8c"/>
<path d="M705,1080l48,-50l22,8l-14,70l-28,4z" fill="#f5b48c"/>
<path d="M1005,678l240,-35q35,-8 50,-45l85,-155l88,30l-88,230q-30,60 -90,78l-145,42l70,360l-155,40l-22,-90z" fill="#213a8c"/>
<path d="M1390,440q10,-40 60,-45l110,-8q14,10 -4,28l-60,28l-30,28z" fill="#f5b48c"/>
<ellipse cx="948" cy="562" rx="77" ry="88" fill="#f5b48c"/>
<ellipse cx="878" cy="578" rx="15" ry="22" fill="#f5b48c"/>
<ellipse cx="905" cy="588" rx="22" ry="16" fill="#f2957c" opacity=".5"/><ellipse cx="1008" cy="570" rx="14" ry="20" fill="#f2957c" opacity=".45"/>
<path d="M938,586q28,16 56,-8q-4,34 -30,34q-20,0 -26,-26z" fill="#fff"/>
<ellipse cx="928" cy="535" rx="7" ry="9" fill="#3a2a2a"/><ellipse cx="984" cy="531" rx="7" ry="9" fill="#3a2a2a"/>
<path d="M910,516q16,-10 32,-2M968,512q14,-10 30,-2" stroke="#3a2a3a" stroke-width="6" fill="none" stroke-linecap="round"/>
<path d="M851,558q-28,-22 -30,-60q2,-40 40,-58q10,-40 60,-52q40,-8 72,18q30,-8 50,16q22,26 14,62q-10,34 -50,34q-34,-2 -50,-34q-40,-8 -70,12q-20,16 -24,50z" fill="#131f4f"/>
</g>

<g id="bars">
<rect x="1371" y="998" width="680" height="83" fill="url(#gp)"/>
<text x="1429.50" y="1061.7" font-size="60" fill="#ffffff" textLength="564.00" lengthAdjust="spacingAndGlyphs">Teacherless Classroom</text>
<rect x="1371" y="1108" width="680" height="83" fill="url(#gt)"/>
<text x="1493.00" y="1163.3" font-size="60" fill="#ffffff" textLength="440.00" lengthAdjust="spacingAndGlyphs">Training contents</text>
<rect x="1371" y="1218" width="680" height="83" fill="url(#gp)"/>
<text x="1517.00" y="1273.8" font-size="60" fill="#ffffff" textLength="392.50" lengthAdjust="spacingAndGlyphs">Expert Sessions</text>
<rect x="1371" y="1328" width="680" height="83" fill="url(#gt)"/>
<text x="1543.50" y="1391" font-size="60" fill="#ffffff" textLength="339.00" lengthAdjust="spacingAndGlyphs">Film Festivals</text>
<rect x="1371" y="1438" width="680" height="83" fill="url(#gp)"/>
<text x="1392.00" y="1494.5" font-size="60" fill="#ffffff" textLength="640.50" lengthAdjust="spacingAndGlyphs">Conferences / Workshops</text>
<rect x="1371" y="1548" width="680" height="83" fill="url(#gt)"/>
<text x="1594.00" y="1608.5" font-size="60" fill="#ffffff" textLength="235.00" lengthAdjust="spacingAndGlyphs">Seminars</text>
<rect x="1371" y="1658" width="680" height="83" fill="url(#gp)"/>
<text x="1414.00" y="1714" font-size="60" fill="#ffffff" textLength="594.50" lengthAdjust="spacingAndGlyphs">Efficiency Improvement</text>
<rect x="1371" y="1768" width="680" height="83" fill="url(#gt)"/>
<text x="1595.50" y="1823" font-size="60" fill="#ffffff" textLength="235.00" lengthAdjust="spacingAndGlyphs">Trainings</text>
<rect x="1371" y="1878" width="680" height="83" fill="url(#gp)"/>
<text x="1534.00" y="1941" font-size="60" fill="#ffffff" textLength="358.00" lengthAdjust="spacingAndGlyphs">Club Activities</text>
<rect x="1371" y="1988" width="680" height="83" fill="url(#gt)"/>
<text x="1564.50" y="2051.4" font-size="60" fill="#ffffff" textLength="293.50" lengthAdjust="spacingAndGlyphs">Talent Hunt</text>
</g>
<g id="labels">
<rect x="183" y="948" width="12" height="125" fill="url(#gpv)"/>
<rect x="484" y="532.5" width="12.3" height="192" fill="#2fa8cc"/>
<rect x="929.6" y="130" width="12.4" height="260" fill="url(#gpv)"/>
<rect x="1517" y="238.2" width="12.4" height="194" fill="url(#gth)"/>
<rect x="1898" y="4" width="12.8" height="124" fill="url(#gpv)"/>
<text x="230.00" y="994.6" font-size="60" fill="#595959" textLength="294.00" lengthAdjust="spacingAndGlyphs">Educational</text>
<text x="215.50" y="1063" font-size="60" fill="#595959" textLength="321.00" lengthAdjust="spacingAndGlyphs">Organization</text>
<text x="514.50" y="588.5" font-size="60" fill="#595959" textLength="304.00" lengthAdjust="spacingAndGlyphs">Establishing</text>
<text x="514.00" y="656.3" font-size="60" fill="#595959" textLength="378.00" lengthAdjust="spacingAndGlyphs">Educational 3D</text>
<text x="513.00" y="724.5" font-size="60" fill="#595959" textLength="195.00" lengthAdjust="spacingAndGlyphs">Theatre</text>
<text x="960.00" y="185.3" font-size="60" fill="#595959" textLength="523.50" lengthAdjust="spacingAndGlyphs">Initiating Talent Club</text>
<text x="960.00" y="253" font-size="60" fill="#595959" textLength="490.50" lengthAdjust="spacingAndGlyphs">and its activities via</text>
<text x="961.00" y="322" font-size="60" fill="#595959" textLength="379.00" lengthAdjust="spacingAndGlyphs">Educational 3D</text>
<text x="961.00" y="390.3" font-size="60" fill="#595959" textLength="180.00" lengthAdjust="spacingAndGlyphs">theater</text>
<text x="1547.00" y="294.4" font-size="60" fill="#595959" textLength="165.50" lengthAdjust="spacingAndGlyphs">Career</text>
<text x="1548.50" y="362.3" font-size="60" fill="#595959" textLength="311.50" lengthAdjust="spacingAndGlyphs">Designing of</text>
<text x="1546.00" y="431.4" font-size="60" fill="#595959" textLength="221.00" lengthAdjust="spacingAndGlyphs">Students</text>
<text x="1931.50" y="60.3" font-size="60" fill="#595959" textLength="379.50" lengthAdjust="spacingAndGlyphs">Industry Ready</text>
<text x="1931.50" y="128.2" font-size="60" fill="#595959" textLength="304.50" lengthAdjust="spacingAndGlyphs">Professional</text>
</g>
</svg>
</body></html>
